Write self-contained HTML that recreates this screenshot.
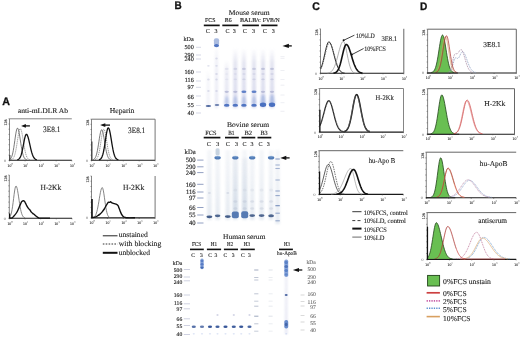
<!DOCTYPE html>
<html><head><meta charset="utf-8"><style>
html,body{margin:0;padding:0;background:#fff;width:520px;height:340px;overflow:hidden;}
svg{display:block;filter:blur(0.3px);}
text{text-rendering:geometricPrecision;}

</style></head><body>
<svg width="520" height="340" viewBox="0 0 520 340">
<defs>
<linearGradient id="fade" x1="0" y1="0" x2="0" y2="1"><stop offset="0" stop-color="#c4c6e0" stop-opacity="0"/><stop offset="0.25" stop-color="#c4c6e0" stop-opacity="0.8"/><stop offset="1" stop-color="#b8bce0" stop-opacity="1"/></linearGradient>
<linearGradient id="fade2" x1="0" y1="0" x2="0" y2="1"><stop offset="0" stop-color="#d2dae6" stop-opacity="0.6"/><stop offset="1" stop-color="#bccadc" stop-opacity="1"/></linearGradient>
<filter id="b1" x="-50%" y="-50%" width="200%" height="200%"><feGaussianBlur stdDeviation="0.55"/></filter>
<filter id="b2" x="-50%" y="-10%" width="200%" height="120%"><feGaussianBlur stdDeviation="0.9"/></filter>
</defs>
<rect x="0" y="0" width="520" height="340" fill="#fff"/>
<text x="2.2" y="105.4" font-family="Liberation Sans" font-weight="bold" font-size="11.00" fill="#111" stroke="#111" stroke-width="0.3" textLength="7.7" lengthAdjust="spacingAndGlyphs">A</text>
<text x="174.4" y="8.8" font-family="Liberation Sans" font-weight="bold" font-size="11.00" fill="#111" stroke="#111" stroke-width="0.3" textLength="7.2" lengthAdjust="spacingAndGlyphs">B</text>
<text x="312.3" y="9.6" font-family="Liberation Sans" font-weight="bold" font-size="11.00" fill="#111" stroke="#111" stroke-width="0.3" textLength="7.6" lengthAdjust="spacingAndGlyphs">C</text>
<text x="419.9" y="9.6" font-family="Liberation Sans" font-weight="bold" font-size="11.00" fill="#111" stroke="#111" stroke-width="0.3" textLength="7.3" lengthAdjust="spacingAndGlyphs">D</text>
<text x="17.8" y="113.0" font-family="Liberation Serif" font-size="7.2" font-weight="normal" fill="#222" stroke="#222" stroke-width="0.12" textLength="50.3" lengthAdjust="spacingAndGlyphs" opacity="1">anti-mLDLR Ab</text>
<text x="109.8" y="113.0" font-family="Liberation Serif" font-size="7.5" font-weight="normal" fill="#222" stroke="#222" stroke-width="0.12" textLength="24.6" lengthAdjust="spacingAndGlyphs" opacity="1">Heparin</text>
<line x1="9.5" y1="118.8" x2="9.5" y2="160.3" stroke="#777" stroke-width="0.9" opacity="1"/>
<line x1="8.5" y1="118.8" x2="9.5" y2="118.8" stroke="#555" stroke-width="0.6" opacity="1"/>
<line x1="8.5" y1="124.0" x2="9.5" y2="124.0" stroke="#555" stroke-width="0.6" opacity="1"/>
<line x1="8.5" y1="129.2" x2="9.5" y2="129.2" stroke="#555" stroke-width="0.6" opacity="1"/>
<line x1="8.5" y1="134.4" x2="9.5" y2="134.4" stroke="#555" stroke-width="0.6" opacity="1"/>
<line x1="8.5" y1="139.6" x2="9.5" y2="139.6" stroke="#555" stroke-width="0.6" opacity="1"/>
<line x1="8.5" y1="144.7" x2="9.5" y2="144.7" stroke="#555" stroke-width="0.6" opacity="1"/>
<line x1="8.5" y1="149.9" x2="9.5" y2="149.9" stroke="#555" stroke-width="0.6" opacity="1"/>
<line x1="8.5" y1="155.1" x2="9.5" y2="155.1" stroke="#555" stroke-width="0.6" opacity="1"/>
<line x1="8.5" y1="160.3" x2="9.5" y2="160.3" stroke="#555" stroke-width="0.6" opacity="1"/>
<line x1="9.2" y1="160.3" x2="71.8" y2="160.3" stroke="#1a1a1a" stroke-width="1.1" opacity="1"/>
<line x1="9.5" y1="118.8" x2="71.8" y2="118.8" stroke="#777" stroke-width="0.9" opacity="1"/>
<line x1="9.5" y1="160.3" x2="9.5" y2="161.3" stroke="#444" stroke-width="0.6" opacity="1"/>
<text x="7.6" y="166.5" font-family="Liberation Serif" font-size="3.9" fill="#333" stroke="#333" stroke-width="0.1">10</text>
<text x="11.4" y="164.5" font-family="Liberation Serif" font-size="2.9" fill="#333">0</text>
<line x1="25.1" y1="160.3" x2="25.1" y2="161.3" stroke="#444" stroke-width="0.6" opacity="1"/>
<text x="23.2" y="166.5" font-family="Liberation Serif" font-size="3.9" fill="#333" stroke="#333" stroke-width="0.1">10</text>
<text x="27.0" y="164.5" font-family="Liberation Serif" font-size="2.9" fill="#333">1</text>
<line x1="40.6" y1="160.3" x2="40.6" y2="161.3" stroke="#444" stroke-width="0.6" opacity="1"/>
<text x="38.8" y="166.5" font-family="Liberation Serif" font-size="3.9" fill="#333" stroke="#333" stroke-width="0.1">10</text>
<text x="42.5" y="164.5" font-family="Liberation Serif" font-size="2.9" fill="#333">2</text>
<line x1="56.2" y1="160.3" x2="56.2" y2="161.3" stroke="#444" stroke-width="0.6" opacity="1"/>
<text x="54.3" y="166.5" font-family="Liberation Serif" font-size="3.9" fill="#333" stroke="#333" stroke-width="0.1">10</text>
<text x="58.1" y="164.5" font-family="Liberation Serif" font-size="2.9" fill="#333">3</text>
<line x1="71.8" y1="160.3" x2="71.8" y2="161.3" stroke="#444" stroke-width="0.6" opacity="1"/>
<text x="69.9" y="166.5" font-family="Liberation Serif" font-size="3.9" fill="#333" stroke="#333" stroke-width="0.1">10</text>
<text x="73.7" y="164.5" font-family="Liberation Serif" font-size="2.9" fill="#333">4</text>
<text transform="translate(7.0,125.4) rotate(-90)" font-family="Liberation Serif" font-size="4.0" fill="#333" stroke="#333" stroke-width="0.12">128</text>
<text x="3.9" y="161.7" font-family="Liberation Serif" font-size="3.9" fill="#444">0</text>
<path d="M9.80,159.36 L10.30,158.99 L10.80,158.44 L11.30,157.62 L11.80,156.48 L12.30,154.92 L12.80,152.91 L13.30,150.42 L13.80,147.47 L14.30,144.15 L14.80,140.61 L15.30,137.08 L15.80,133.82 L16.30,131.09 L16.80,129.15 L17.30,128.19 L17.80,128.27 L18.30,129.29 L18.80,131.14 L19.30,133.67 L19.80,136.68 L20.30,139.95 L20.80,143.26 L21.30,146.42 L21.80,149.31 L22.30,151.82 L22.80,153.91 L23.30,155.60 L23.80,156.90 L24.30,157.87 L24.80,158.56 L25.30,159.05 L25.80,159.37 L26.30,159.58 L26.80,159.71" fill="none" stroke="#555" stroke-width="0.8" stroke-linejoin="round" opacity="1"/>
<path d="M10.80,159.75 L11.30,159.65 L11.80,159.47 L12.30,159.20 L12.80,158.80 L13.30,158.20 L13.80,157.36 L14.30,156.22 L14.80,154.72 L15.30,152.82 L15.80,150.51 L16.30,147.81 L16.80,144.79 L17.30,141.57 L17.80,138.31 L18.30,135.22 L18.80,132.52 L19.30,130.41 L19.80,129.06 L20.30,128.60 L20.80,129.03 L21.30,130.29 L21.80,132.28 L22.30,134.84 L22.80,137.78 L23.30,140.92 L23.80,144.05 L24.30,147.03 L24.80,149.74 L25.30,152.10 L25.80,154.07 L26.30,155.66 L26.80,156.91 L27.30,157.84 L27.80,158.52 L28.30,159.01 L28.80,159.33 L29.30,159.55 L29.80,159.69" fill="none" stroke="#777" stroke-width="0.8" stroke-dasharray="1.2,0.8" stroke-linejoin="round" opacity="1"/>
<path d="M17.30,159.71 L17.80,159.58 L18.30,159.38 L18.80,159.07 L19.30,158.62 L19.80,157.98 L20.30,157.10 L20.80,155.93 L21.30,154.45 L21.80,152.62 L22.30,150.48 L22.80,148.05 L23.30,145.44 L23.80,142.77 L24.30,140.20 L24.80,137.91 L25.30,136.08 L25.80,134.84 L26.30,134.32 L26.80,134.48 L27.30,135.18 L27.80,136.38 L28.30,138.00 L28.80,139.95 L29.30,142.11 L29.80,144.37 L30.30,146.64 L30.80,148.82 L31.30,150.84 L31.80,152.65 L32.30,154.22 L32.80,155.55 L33.30,156.63 L33.80,157.50 L34.30,158.18 L34.80,158.69 L35.30,159.07 L35.80,159.34 L36.30,159.53 L36.80,159.66" fill="none" stroke="#111" stroke-width="1.3" stroke-linejoin="round" opacity="1"/>
<line x1="9.9" y1="155.0" x2="9.9" y2="160.3" stroke="#333" stroke-width="1.0" opacity="1"/>
<line x1="24.0" y1="125.9" x2="29.9" y2="125.9" stroke="#111" stroke-width="1.3" opacity="1"/>
<path d="M21.1,125.9 L25.9,124.1 L25.9,127.7 Z" fill="#111"/>
<text x="43.1" y="131.9" font-family="Liberation Serif" font-size="8.2" font-weight="normal" fill="#222" stroke="#222" stroke-width="0.12" textLength="17.3" lengthAdjust="spacingAndGlyphs" opacity="1">3E8.1</text>
<line x1="9.3" y1="175.0" x2="9.3" y2="218.3" stroke="#777" stroke-width="0.9" opacity="1"/>
<line x1="8.3" y1="175.0" x2="9.3" y2="175.0" stroke="#555" stroke-width="0.6" opacity="1"/>
<line x1="8.3" y1="180.4" x2="9.3" y2="180.4" stroke="#555" stroke-width="0.6" opacity="1"/>
<line x1="8.3" y1="185.8" x2="9.3" y2="185.8" stroke="#555" stroke-width="0.6" opacity="1"/>
<line x1="8.3" y1="191.2" x2="9.3" y2="191.2" stroke="#555" stroke-width="0.6" opacity="1"/>
<line x1="8.3" y1="196.7" x2="9.3" y2="196.7" stroke="#555" stroke-width="0.6" opacity="1"/>
<line x1="8.3" y1="202.1" x2="9.3" y2="202.1" stroke="#555" stroke-width="0.6" opacity="1"/>
<line x1="8.3" y1="207.5" x2="9.3" y2="207.5" stroke="#555" stroke-width="0.6" opacity="1"/>
<line x1="8.3" y1="212.9" x2="9.3" y2="212.9" stroke="#555" stroke-width="0.6" opacity="1"/>
<line x1="8.3" y1="218.3" x2="9.3" y2="218.3" stroke="#555" stroke-width="0.6" opacity="1"/>
<line x1="9.0" y1="218.3" x2="72.0" y2="218.3" stroke="#1a1a1a" stroke-width="1.1" opacity="1"/>
<line x1="9.3" y1="218.3" x2="9.3" y2="219.3" stroke="#444" stroke-width="0.6" opacity="1"/>
<text x="7.4" y="224.5" font-family="Liberation Serif" font-size="3.9" fill="#333" stroke="#333" stroke-width="0.1">10</text>
<text x="11.2" y="222.5" font-family="Liberation Serif" font-size="2.9" fill="#333">0</text>
<line x1="25.0" y1="218.3" x2="25.0" y2="219.3" stroke="#444" stroke-width="0.6" opacity="1"/>
<text x="23.1" y="224.5" font-family="Liberation Serif" font-size="3.9" fill="#333" stroke="#333" stroke-width="0.1">10</text>
<text x="26.9" y="222.5" font-family="Liberation Serif" font-size="2.9" fill="#333">1</text>
<line x1="40.7" y1="218.3" x2="40.7" y2="219.3" stroke="#444" stroke-width="0.6" opacity="1"/>
<text x="38.8" y="224.5" font-family="Liberation Serif" font-size="3.9" fill="#333" stroke="#333" stroke-width="0.1">10</text>
<text x="42.6" y="222.5" font-family="Liberation Serif" font-size="2.9" fill="#333">2</text>
<line x1="56.3" y1="218.3" x2="56.3" y2="219.3" stroke="#444" stroke-width="0.6" opacity="1"/>
<text x="54.4" y="224.5" font-family="Liberation Serif" font-size="3.9" fill="#333" stroke="#333" stroke-width="0.1">10</text>
<text x="58.2" y="222.5" font-family="Liberation Serif" font-size="2.9" fill="#333">3</text>
<line x1="72.0" y1="218.3" x2="72.0" y2="219.3" stroke="#444" stroke-width="0.6" opacity="1"/>
<text x="70.1" y="224.5" font-family="Liberation Serif" font-size="3.9" fill="#333" stroke="#333" stroke-width="0.1">10</text>
<text x="73.9" y="222.5" font-family="Liberation Serif" font-size="2.9" fill="#333">4</text>
<text transform="translate(6.8,181.6) rotate(-90)" font-family="Liberation Serif" font-size="4.0" fill="#333" stroke="#333" stroke-width="0.12">128</text>
<text x="3.7" y="219.7" font-family="Liberation Serif" font-size="3.9" fill="#444">0</text>
<path d="M9.60,217.09 L10.10,216.44 L10.60,215.45 L11.10,214.02 L11.60,212.04 L12.10,209.45 L12.60,206.27 L13.10,202.58 L13.60,198.59 L14.10,194.61 L14.60,191.01 L15.10,188.17 L15.60,186.44 L16.10,186.02 L16.60,186.70 L17.10,188.30 L17.60,190.67 L18.10,193.61 L18.60,196.89 L19.10,200.29 L19.60,203.59 L20.10,206.63 L20.60,209.30 L21.10,211.55 L21.60,213.36 L22.10,214.76 L22.60,215.81 L23.10,216.56 L23.60,217.09 L24.10,217.44 L24.60,217.66 L25.10,217.80" fill="none" stroke="#666" stroke-width="0.8" stroke-linejoin="round" opacity="1"/>
<path d="M9.60,218.00 C10.02,217.98 11.30,218.32 12.10,217.90 C12.90,217.48 13.63,216.40 14.40,215.50 C15.17,214.60 16.00,213.65 16.70,212.50 C17.40,211.35 18.02,209.88 18.60,208.60 C19.18,207.32 19.68,205.95 20.20,204.80 C20.72,203.65 21.20,202.37 21.70,201.70 C22.20,201.03 22.75,200.87 23.20,200.80 C23.65,200.73 24.02,200.90 24.40,201.30 C24.78,201.70 25.05,202.37 25.50,203.20 C25.95,204.03 26.58,205.40 27.10,206.30 C27.62,207.20 28.15,208.02 28.60,208.60 C29.05,209.18 29.35,209.22 29.80,209.80 C30.25,210.38 30.67,211.40 31.30,212.10 C31.93,212.80 32.83,213.35 33.60,214.00 C34.37,214.65 35.13,215.40 35.90,216.00 C36.67,216.60 37.43,217.25 38.20,217.60 C38.97,217.95 38.53,218.02 40.50,218.10 C42.47,218.18 48.42,218.10 50.00,218.10" fill="none" stroke="#111" stroke-width="1.4" stroke-linejoin="round" opacity="1"/>
<line x1="9.6" y1="213.5" x2="9.6" y2="218.0" stroke="#111" stroke-width="1.2" opacity="1"/>
<text x="40.5" y="190.3" font-family="Liberation Serif" font-size="7.8" font-weight="normal" fill="#222" stroke="#222" stroke-width="0.12" textLength="20.7" lengthAdjust="spacingAndGlyphs" opacity="1">H-2Kk</text>
<line x1="91.5" y1="119.2" x2="91.5" y2="160.3" stroke="#777" stroke-width="0.9" opacity="1"/>
<line x1="90.5" y1="119.2" x2="91.5" y2="119.2" stroke="#555" stroke-width="0.6" opacity="1"/>
<line x1="90.5" y1="124.3" x2="91.5" y2="124.3" stroke="#555" stroke-width="0.6" opacity="1"/>
<line x1="90.5" y1="129.5" x2="91.5" y2="129.5" stroke="#555" stroke-width="0.6" opacity="1"/>
<line x1="90.5" y1="134.6" x2="91.5" y2="134.6" stroke="#555" stroke-width="0.6" opacity="1"/>
<line x1="90.5" y1="139.8" x2="91.5" y2="139.8" stroke="#555" stroke-width="0.6" opacity="1"/>
<line x1="90.5" y1="144.9" x2="91.5" y2="144.9" stroke="#555" stroke-width="0.6" opacity="1"/>
<line x1="90.5" y1="150.0" x2="91.5" y2="150.0" stroke="#555" stroke-width="0.6" opacity="1"/>
<line x1="90.5" y1="155.2" x2="91.5" y2="155.2" stroke="#555" stroke-width="0.6" opacity="1"/>
<line x1="90.5" y1="160.3" x2="91.5" y2="160.3" stroke="#555" stroke-width="0.6" opacity="1"/>
<line x1="91.2" y1="160.3" x2="155.1" y2="160.3" stroke="#1a1a1a" stroke-width="1.1" opacity="1"/>
<line x1="91.5" y1="119.2" x2="155.1" y2="119.2" stroke="#666" stroke-width="0.9" opacity="1"/>
<line x1="155.1" y1="119.2" x2="155.1" y2="160.3" stroke="#666" stroke-width="0.9" opacity="1"/>
<line x1="91.5" y1="160.3" x2="91.5" y2="161.3" stroke="#444" stroke-width="0.6" opacity="1"/>
<text x="89.6" y="166.5" font-family="Liberation Serif" font-size="3.9" fill="#333" stroke="#333" stroke-width="0.1">10</text>
<text x="93.4" y="164.5" font-family="Liberation Serif" font-size="2.9" fill="#333">0</text>
<line x1="107.4" y1="160.3" x2="107.4" y2="161.3" stroke="#444" stroke-width="0.6" opacity="1"/>
<text x="105.5" y="166.5" font-family="Liberation Serif" font-size="3.9" fill="#333" stroke="#333" stroke-width="0.1">10</text>
<text x="109.3" y="164.5" font-family="Liberation Serif" font-size="2.9" fill="#333">1</text>
<line x1="123.3" y1="160.3" x2="123.3" y2="161.3" stroke="#444" stroke-width="0.6" opacity="1"/>
<text x="121.4" y="166.5" font-family="Liberation Serif" font-size="3.9" fill="#333" stroke="#333" stroke-width="0.1">10</text>
<text x="125.2" y="164.5" font-family="Liberation Serif" font-size="2.9" fill="#333">2</text>
<line x1="139.2" y1="160.3" x2="139.2" y2="161.3" stroke="#444" stroke-width="0.6" opacity="1"/>
<text x="137.3" y="166.5" font-family="Liberation Serif" font-size="3.9" fill="#333" stroke="#333" stroke-width="0.1">10</text>
<text x="141.1" y="164.5" font-family="Liberation Serif" font-size="2.9" fill="#333">3</text>
<line x1="155.1" y1="160.3" x2="155.1" y2="161.3" stroke="#444" stroke-width="0.6" opacity="1"/>
<text x="153.2" y="166.5" font-family="Liberation Serif" font-size="3.9" fill="#333" stroke="#333" stroke-width="0.1">10</text>
<text x="157.0" y="164.5" font-family="Liberation Serif" font-size="2.9" fill="#333">4</text>
<text transform="translate(89.0,125.8) rotate(-90)" font-family="Liberation Serif" font-size="4.0" fill="#333" stroke="#333" stroke-width="0.12">128</text>
<text x="85.9" y="161.7" font-family="Liberation Serif" font-size="3.9" fill="#444">0</text>
<path d="M92.90,159.68 L93.40,159.53 L93.90,159.28 L94.40,158.89 L94.90,158.32 L95.40,157.50 L95.90,156.37 L96.40,154.87 L96.90,152.95 L97.40,150.61 L97.90,147.88 L98.40,144.82 L98.90,141.58 L99.40,138.35 L99.90,135.34 L100.40,132.79 L100.90,130.91 L101.40,129.87 L101.90,129.77 L102.40,130.57 L102.90,132.18 L103.40,134.47 L103.90,137.25 L104.40,140.32 L104.90,143.47 L105.40,146.52 L105.90,149.32 L106.40,151.78 L106.90,153.85 L107.40,155.52 L107.90,156.83 L108.40,157.81 L108.90,158.51 L109.40,159.01 L109.90,159.35 L110.40,159.56 L110.90,159.70" fill="none" stroke="#555" stroke-width="0.8" stroke-linejoin="round" opacity="1"/>
<path d="M94.90,159.70 L95.40,159.56 L95.90,159.32 L96.40,158.96 L96.90,158.42 L97.40,157.64 L97.90,156.55 L98.40,155.10 L98.90,153.24 L99.40,150.94 L99.90,148.22 L100.40,145.16 L100.90,141.89 L101.40,138.57 L101.90,135.43 L102.40,132.72 L102.90,130.65 L103.40,129.41 L103.90,129.12 L104.40,129.75 L104.90,131.24 L105.40,133.45 L105.90,136.20 L106.40,139.29 L106.90,142.51 L107.40,145.65 L107.90,148.56 L108.40,151.15 L108.90,153.34 L109.40,155.13 L109.90,156.53 L110.40,157.59 L110.90,158.36 L111.40,158.91 L111.90,159.28 L112.40,159.52 L112.90,159.68" fill="none" stroke="#777" stroke-width="0.8" stroke-dasharray="1.2,0.8" stroke-linejoin="round" opacity="1"/>
<path d="M98.90,159.73 L99.40,159.61 L99.90,159.42 L100.40,159.11 L100.90,158.66 L101.40,158.01 L101.90,157.09 L102.40,155.85 L102.90,154.23 L103.40,152.20 L103.90,149.75 L104.40,146.90 L104.90,143.76 L105.40,140.43 L105.90,137.11 L106.40,134.00 L106.90,131.33 L107.40,129.31 L107.90,128.10 L108.40,127.82 L108.90,128.40 L109.40,129.76 L109.90,131.80 L110.40,134.38 L110.90,137.32 L111.40,140.43 L111.90,143.54 L112.40,146.51 L112.90,149.22 L113.40,151.61 L113.90,153.62 L114.40,155.27 L114.90,156.57 L115.40,157.57 L115.90,158.31 L116.40,158.84 L116.90,159.22 L117.40,159.47 L117.90,159.63 L118.40,159.74" fill="none" stroke="#111" stroke-width="1.3" stroke-linejoin="round" opacity="1"/>
<line x1="91.9" y1="141.6" x2="91.9" y2="160.3" stroke="#333" stroke-width="1.1" opacity="1"/>
<line x1="103.2" y1="125.1" x2="110.0" y2="125.1" stroke="#111" stroke-width="1.3" opacity="1"/>
<path d="M100.1,125.1 L105.3,123.3 L105.3,126.9 Z" fill="#111"/>
<text x="128.1" y="132.5" font-family="Liberation Serif" font-size="8.2" font-weight="normal" fill="#222" stroke="#222" stroke-width="0.12" textLength="17.1" lengthAdjust="spacingAndGlyphs" opacity="1">3E8.1</text>
<line x1="91.5" y1="176.0" x2="91.5" y2="217.9" stroke="#777" stroke-width="0.9" opacity="1"/>
<line x1="90.5" y1="176.0" x2="91.5" y2="176.0" stroke="#555" stroke-width="0.6" opacity="1"/>
<line x1="90.5" y1="181.2" x2="91.5" y2="181.2" stroke="#555" stroke-width="0.6" opacity="1"/>
<line x1="90.5" y1="186.5" x2="91.5" y2="186.5" stroke="#555" stroke-width="0.6" opacity="1"/>
<line x1="90.5" y1="191.7" x2="91.5" y2="191.7" stroke="#555" stroke-width="0.6" opacity="1"/>
<line x1="90.5" y1="196.9" x2="91.5" y2="196.9" stroke="#555" stroke-width="0.6" opacity="1"/>
<line x1="90.5" y1="202.2" x2="91.5" y2="202.2" stroke="#555" stroke-width="0.6" opacity="1"/>
<line x1="90.5" y1="207.4" x2="91.5" y2="207.4" stroke="#555" stroke-width="0.6" opacity="1"/>
<line x1="90.5" y1="212.7" x2="91.5" y2="212.7" stroke="#555" stroke-width="0.6" opacity="1"/>
<line x1="90.5" y1="217.9" x2="91.5" y2="217.9" stroke="#555" stroke-width="0.6" opacity="1"/>
<line x1="91.2" y1="217.9" x2="155.1" y2="217.9" stroke="#1a1a1a" stroke-width="1.1" opacity="1"/>
<line x1="155.1" y1="176.0" x2="155.1" y2="217.9" stroke="#666" stroke-width="0.9" opacity="1"/>
<line x1="91.5" y1="217.9" x2="91.5" y2="218.9" stroke="#444" stroke-width="0.6" opacity="1"/>
<text x="89.6" y="224.1" font-family="Liberation Serif" font-size="3.9" fill="#333" stroke="#333" stroke-width="0.1">10</text>
<text x="93.4" y="222.1" font-family="Liberation Serif" font-size="2.9" fill="#333">0</text>
<line x1="107.4" y1="217.9" x2="107.4" y2="218.9" stroke="#444" stroke-width="0.6" opacity="1"/>
<text x="105.5" y="224.1" font-family="Liberation Serif" font-size="3.9" fill="#333" stroke="#333" stroke-width="0.1">10</text>
<text x="109.3" y="222.1" font-family="Liberation Serif" font-size="2.9" fill="#333">1</text>
<line x1="123.3" y1="217.9" x2="123.3" y2="218.9" stroke="#444" stroke-width="0.6" opacity="1"/>
<text x="121.4" y="224.1" font-family="Liberation Serif" font-size="3.9" fill="#333" stroke="#333" stroke-width="0.1">10</text>
<text x="125.2" y="222.1" font-family="Liberation Serif" font-size="2.9" fill="#333">2</text>
<line x1="139.2" y1="217.9" x2="139.2" y2="218.9" stroke="#444" stroke-width="0.6" opacity="1"/>
<text x="137.3" y="224.1" font-family="Liberation Serif" font-size="3.9" fill="#333" stroke="#333" stroke-width="0.1">10</text>
<text x="141.1" y="222.1" font-family="Liberation Serif" font-size="2.9" fill="#333">3</text>
<line x1="155.1" y1="217.9" x2="155.1" y2="218.9" stroke="#444" stroke-width="0.6" opacity="1"/>
<text x="153.2" y="224.1" font-family="Liberation Serif" font-size="3.9" fill="#333" stroke="#333" stroke-width="0.1">10</text>
<text x="157.0" y="222.1" font-family="Liberation Serif" font-size="2.9" fill="#333">4</text>
<text transform="translate(89.0,182.6) rotate(-90)" font-family="Liberation Serif" font-size="4.0" fill="#333" stroke="#333" stroke-width="0.12">128</text>
<text x="85.9" y="219.3" font-family="Liberation Serif" font-size="3.9" fill="#444">0</text>
<path d="M92.90,217.55 L93.40,217.39 L93.90,217.14 L94.40,216.77 L94.90,216.24 L95.40,215.49 L95.90,214.47 L96.40,213.14 L96.90,211.46 L97.40,209.40 L97.90,206.99 L98.40,204.26 L98.90,201.31 L99.40,198.26 L99.90,195.29 L100.40,192.57 L100.90,190.31 L101.40,188.65 L101.90,187.75 L102.40,187.70 L102.90,188.76 L103.40,190.89 L103.90,193.83 L104.40,197.30 L104.90,200.95 L105.40,204.49 L105.90,207.70 L106.40,210.44 L106.90,212.64 L107.40,214.33 L107.90,215.56 L108.40,216.41 L108.90,216.97 L109.40,217.32 L109.90,217.54 L110.40,217.66" fill="none" stroke="#666" stroke-width="0.8" stroke-linejoin="round" opacity="1"/>
<path d="M91.90,217.60 C92.43,217.52 94.18,217.38 95.10,217.10 C96.02,216.82 96.63,216.35 97.40,215.90 C98.17,215.45 98.93,215.03 99.70,214.40 C100.47,213.77 101.23,213.00 102.00,212.10 C102.77,211.20 103.60,210.10 104.30,209.00 C105.00,207.90 105.62,206.53 106.20,205.50 C106.78,204.47 107.40,203.37 107.80,202.80 C108.20,202.23 108.30,202.17 108.60,202.10 C108.90,202.03 109.28,202.47 109.60,202.40 C109.92,202.33 110.10,201.63 110.50,201.70 C110.90,201.77 111.37,202.48 112.00,202.80 C112.63,203.12 113.53,203.33 114.30,203.60 C115.07,203.87 115.95,204.02 116.60,204.40 C117.25,204.78 117.82,205.33 118.20,205.90 C118.58,206.47 118.58,206.97 118.90,207.80 C119.22,208.63 119.65,209.80 120.10,210.90 C120.55,212.00 121.08,213.47 121.60,214.40 C122.12,215.33 122.62,216.00 123.20,216.50 C123.78,217.00 124.40,217.18 125.10,217.40 C125.80,217.62 125.75,217.73 127.40,217.80 C129.05,217.87 133.73,217.80 135.00,217.80" fill="none" stroke="#111" stroke-width="1.4" stroke-linejoin="round" opacity="1"/>
<line x1="92.0" y1="199.0" x2="92.0" y2="217.9" stroke="#111" stroke-width="1.6" opacity="1"/>
<text x="123.1" y="189.5" font-family="Liberation Serif" font-size="7.8" font-weight="normal" fill="#222" stroke="#222" stroke-width="0.12" textLength="21.1" lengthAdjust="spacingAndGlyphs" opacity="1">H-2Kk</text>
<line x1="102.8" y1="235.8" x2="117.5" y2="235.8" stroke="#222" stroke-width="1.0" opacity="1"/>
<text x="118.8" y="236.8" font-family="Liberation Serif" font-size="7.5" font-weight="normal" fill="#222" stroke="#222" stroke-width="0.12" textLength="29.0" lengthAdjust="spacingAndGlyphs" opacity="1">unstained</text>
<line x1="102.8" y1="244.0" x2="117.5" y2="244.0" stroke="#333" stroke-width="1.0" stroke-dasharray="1.6,1.3" opacity="1"/>
<text x="118.8" y="245.5" font-family="Liberation Serif" font-size="7.5" font-weight="normal" fill="#222" stroke="#222" stroke-width="0.12" textLength="42.5" lengthAdjust="spacingAndGlyphs" opacity="1">with blocking</text>
<line x1="102.8" y1="252.8" x2="117.5" y2="252.8" stroke="#111" stroke-width="2.0" opacity="1"/>
<text x="118.8" y="254.5" font-family="Liberation Serif" font-size="7.5" font-weight="normal" fill="#222" stroke="#222" stroke-width="0.12" textLength="31.2" lengthAdjust="spacingAndGlyphs" opacity="1">unblocked</text>
<text x="228.8" y="14.8" font-family="Liberation Serif" font-size="7.2" font-weight="normal" fill="#222" stroke="#222" stroke-width="0.12" textLength="40.9" lengthAdjust="spacingAndGlyphs" opacity="1">Mouse serum</text>
<text x="205.0" y="21.9" font-family="Liberation Serif" font-size="5.9" font-weight="normal" fill="#222" stroke="#222" stroke-width="0.12" textLength="10.4" lengthAdjust="spacingAndGlyphs" opacity="1">FCS</text>
<text x="224.8" y="21.9" font-family="Liberation Serif" font-size="5.9" font-weight="normal" fill="#222" stroke="#222" stroke-width="0.12" textLength="6.9" lengthAdjust="spacingAndGlyphs" opacity="1">B6</text>
<text x="240.0" y="21.9" font-family="Liberation Serif" font-size="5.9" font-weight="normal" fill="#222" stroke="#222" stroke-width="0.12" textLength="20.8" lengthAdjust="spacingAndGlyphs" opacity="1">BALB/c</text>
<text x="262.7" y="21.9" font-family="Liberation Serif" font-size="5.9" font-weight="normal" fill="#222" stroke="#222" stroke-width="0.12" textLength="17.1" lengthAdjust="spacingAndGlyphs" opacity="1">FVB/N</text>
<line x1="203.8" y1="25.4" x2="219.7" y2="25.4" stroke="#111" stroke-width="1.7" opacity="1"/>
<line x1="222.3" y1="25.4" x2="238.5" y2="25.4" stroke="#111" stroke-width="1.7" opacity="1"/>
<line x1="242.3" y1="25.4" x2="258.9" y2="25.4" stroke="#111" stroke-width="1.7" opacity="1"/>
<line x1="261.2" y1="25.4" x2="277.5" y2="25.4" stroke="#111" stroke-width="1.7" opacity="1"/>
<text x="207.7" y="32.9" font-family="Liberation Serif" font-size="6.0" fill="#222" stroke="#222" stroke-width="0.12" text-anchor="middle">C</text>
<text x="215.9" y="32.9" font-family="Liberation Serif" font-size="6.0" fill="#222" stroke="#222" stroke-width="0.12" text-anchor="middle">3</text>
<text x="227.4" y="32.9" font-family="Liberation Serif" font-size="6.0" fill="#222" stroke="#222" stroke-width="0.12" text-anchor="middle">C</text>
<text x="234.2" y="32.9" font-family="Liberation Serif" font-size="6.0" fill="#222" stroke="#222" stroke-width="0.12" text-anchor="middle">3</text>
<text x="244.8" y="32.9" font-family="Liberation Serif" font-size="6.0" fill="#222" stroke="#222" stroke-width="0.12" text-anchor="middle">C</text>
<text x="253.5" y="32.9" font-family="Liberation Serif" font-size="6.0" fill="#222" stroke="#222" stroke-width="0.12" text-anchor="middle">3</text>
<text x="264.8" y="32.9" font-family="Liberation Serif" font-size="6.0" fill="#222" stroke="#222" stroke-width="0.12" text-anchor="middle">C</text>
<text x="273.3" y="32.9" font-family="Liberation Serif" font-size="6.0" fill="#222" stroke="#222" stroke-width="0.12" text-anchor="middle">3</text>
<text x="193.8" y="40.8" font-family="Liberation Serif" font-size="6.2" fill="#2a2a2a" stroke="#2a2a2a" stroke-width="0.15" text-anchor="end" opacity="1">kDa</text>
<text x="193.8" y="49.0" font-family="Liberation Serif" font-size="6.2" fill="#2a2a2a" stroke="#2a2a2a" stroke-width="0.15" text-anchor="end" opacity="1">500</text>
<text x="193.8" y="56.8" font-family="Liberation Serif" font-size="6.2" fill="#2a2a2a" stroke="#2a2a2a" stroke-width="0.15" text-anchor="end" opacity="1">290</text>
<text x="193.8" y="61.2" font-family="Liberation Serif" font-size="6.2" fill="#2a2a2a" stroke="#2a2a2a" stroke-width="0.15" text-anchor="end" opacity="1">240</text>
<text x="193.8" y="74.2" font-family="Liberation Serif" font-size="6.2" fill="#2a2a2a" stroke="#2a2a2a" stroke-width="0.15" text-anchor="end" opacity="1">160</text>
<text x="193.8" y="82.4" font-family="Liberation Serif" font-size="6.2" fill="#2a2a2a" stroke="#2a2a2a" stroke-width="0.15" text-anchor="end" opacity="1">116</text>
<text x="193.8" y="88.6" font-family="Liberation Serif" font-size="6.2" fill="#2a2a2a" stroke="#2a2a2a" stroke-width="0.15" text-anchor="end" opacity="1">97</text>
<text x="193.8" y="98.6" font-family="Liberation Serif" font-size="6.2" fill="#2a2a2a" stroke="#2a2a2a" stroke-width="0.15" text-anchor="end" opacity="1">66</text>
<text x="193.8" y="107.4" font-family="Liberation Serif" font-size="6.2" fill="#2a2a2a" stroke="#2a2a2a" stroke-width="0.15" text-anchor="end" opacity="1">55</text>
<text x="193.8" y="115.4" font-family="Liberation Serif" font-size="6.2" fill="#2a2a2a" stroke="#2a2a2a" stroke-width="0.15" text-anchor="end" opacity="1">40</text>
<line x1="196.0" y1="47.3" x2="201.0" y2="47.3" stroke="#9aa0c0" stroke-width="0.8" opacity="0.5"/>
<line x1="196.0" y1="55.0" x2="201.0" y2="55.0" stroke="#9aa0c0" stroke-width="0.8" opacity="0.5"/>
<line x1="196.0" y1="59.0" x2="201.0" y2="59.0" stroke="#9aa0c0" stroke-width="0.8" opacity="0.5"/>
<line x1="196.0" y1="72.0" x2="201.0" y2="72.0" stroke="#9aa0c0" stroke-width="0.8" opacity="0.5"/>
<line x1="196.0" y1="81.0" x2="201.0" y2="81.0" stroke="#9aa0c0" stroke-width="0.8" opacity="0.5"/>
<line x1="196.0" y1="87.3" x2="201.0" y2="87.3" stroke="#9aa0c0" stroke-width="0.8" opacity="0.5"/>
<line x1="196.0" y1="96.0" x2="201.0" y2="96.0" stroke="#9aa0c0" stroke-width="0.8" opacity="0.5"/>
<line x1="196.0" y1="105.4" x2="201.0" y2="105.4" stroke="#9aa0c0" stroke-width="0.8" opacity="0.5"/>
<line x1="196.0" y1="113.0" x2="201.0" y2="113.0" stroke="#9aa0c0" stroke-width="0.8" opacity="0.5"/>
<rect x="206.6" y="70.0" width="3.2" height="38.0" fill="url(#fade)" opacity="0.2" filter="url(#b2)"/>
<rect x="214.9" y="44.0" width="3.2" height="64.0" fill="url(#fade)" opacity="0.3" filter="url(#b2)"/>
<rect x="224.7" y="60.0" width="4.0" height="48.0" fill="url(#fade)" opacity="0.4" filter="url(#b2)"/>
<rect x="233.2" y="48.0" width="4.2" height="60.0" fill="url(#fade)" opacity="0.55" filter="url(#b2)"/>
<rect x="241.8" y="48.0" width="4.2" height="60.0" fill="url(#fade)" opacity="0.55" filter="url(#b2)"/>
<rect x="251.9" y="48.0" width="4.2" height="60.0" fill="url(#fade)" opacity="0.55" filter="url(#b2)"/>
<rect x="260.9" y="48.0" width="4.2" height="60.0" fill="url(#fade)" opacity="0.55" filter="url(#b2)"/>
<rect x="269.9" y="48.0" width="4.2" height="60.0" fill="url(#fade)" opacity="0.55" filter="url(#b2)"/>
<rect x="213.9" y="38.2" width="5.2" height="7" rx="2" fill="#8fa6d6" opacity="0.75" filter="url(#b1)"/>
<ellipse cx="216.5" cy="45.6" rx="2.60" ry="1.60" fill="#4a6fc0" opacity="0.95" filter="url(#b1)"/>
<ellipse cx="208.4" cy="106.0" rx="2.70" ry="1.10" fill="#34508f" opacity="0.85" filter="url(#b1)"/>
<ellipse cx="217.0" cy="105.0" rx="2.30" ry="1.00" fill="#34508f" opacity="0.7" filter="url(#b1)"/>
<ellipse cx="208.4" cy="65.8" rx="1.30" ry="0.90" fill="#a0a4c8" opacity="0.3" filter="url(#b1)"/>
<ellipse cx="208.4" cy="79.5" rx="1.30" ry="0.90" fill="#a0a4c8" opacity="0.3" filter="url(#b1)"/>
<ellipse cx="208.4" cy="91.0" rx="1.30" ry="0.90" fill="#a0a4c8" opacity="0.3" filter="url(#b1)"/>
<ellipse cx="216.5" cy="58.5" rx="1.30" ry="0.90" fill="#a0a4c8" opacity="0.3" filter="url(#b1)"/>
<ellipse cx="216.5" cy="65.8" rx="1.30" ry="0.90" fill="#a0a4c8" opacity="0.3" filter="url(#b1)"/>
<ellipse cx="216.5" cy="74.0" rx="1.30" ry="0.90" fill="#a0a4c8" opacity="0.3" filter="url(#b1)"/>
<ellipse cx="216.5" cy="79.5" rx="1.30" ry="0.90" fill="#a0a4c8" opacity="0.3" filter="url(#b1)"/>
<ellipse cx="216.5" cy="91.0" rx="1.30" ry="0.90" fill="#a0a4c8" opacity="0.3" filter="url(#b1)"/>
<ellipse cx="226.7" cy="68.9" rx="2.00" ry="1.10" fill="#a0a4c8" opacity="0.2" filter="url(#b1)"/>
<ellipse cx="226.7" cy="74.0" rx="1.80" ry="0.80" fill="#a0a4c8" opacity="0.12" filter="url(#b1)"/>
<ellipse cx="226.7" cy="79.4" rx="1.80" ry="0.80" fill="#a0a4c8" opacity="0.12" filter="url(#b1)"/>
<ellipse cx="235.3" cy="68.9" rx="2.00" ry="1.10" fill="#a0a4c8" opacity="0.3" filter="url(#b1)"/>
<ellipse cx="235.3" cy="74.0" rx="1.80" ry="0.80" fill="#a0a4c8" opacity="0.18" filter="url(#b1)"/>
<ellipse cx="235.3" cy="79.4" rx="1.80" ry="0.80" fill="#a0a4c8" opacity="0.18" filter="url(#b1)"/>
<ellipse cx="243.9" cy="68.9" rx="2.00" ry="1.10" fill="#a0a4c8" opacity="0.45" filter="url(#b1)"/>
<ellipse cx="243.9" cy="74.0" rx="1.80" ry="0.80" fill="#a0a4c8" opacity="0.27" filter="url(#b1)"/>
<ellipse cx="243.9" cy="79.4" rx="1.80" ry="0.80" fill="#a0a4c8" opacity="0.27" filter="url(#b1)"/>
<ellipse cx="254.0" cy="68.9" rx="2.00" ry="1.10" fill="#a0a4c8" opacity="0.45" filter="url(#b1)"/>
<ellipse cx="254.0" cy="74.0" rx="1.80" ry="0.80" fill="#a0a4c8" opacity="0.27" filter="url(#b1)"/>
<ellipse cx="254.0" cy="79.4" rx="1.80" ry="0.80" fill="#a0a4c8" opacity="0.27" filter="url(#b1)"/>
<ellipse cx="263.0" cy="68.9" rx="2.00" ry="1.10" fill="#a0a4c8" opacity="0.55" filter="url(#b1)"/>
<ellipse cx="263.0" cy="74.0" rx="1.80" ry="0.80" fill="#a0a4c8" opacity="0.33" filter="url(#b1)"/>
<ellipse cx="263.0" cy="79.4" rx="1.80" ry="0.80" fill="#a0a4c8" opacity="0.33" filter="url(#b1)"/>
<ellipse cx="272.0" cy="68.9" rx="2.00" ry="1.10" fill="#a0a4c8" opacity="0.55" filter="url(#b1)"/>
<ellipse cx="272.0" cy="74.0" rx="1.80" ry="0.80" fill="#a0a4c8" opacity="0.33" filter="url(#b1)"/>
<ellipse cx="272.0" cy="79.4" rx="1.80" ry="0.80" fill="#a0a4c8" opacity="0.33" filter="url(#b1)"/>
<ellipse cx="226.7" cy="91.8" rx="2.20" ry="1.10" fill="#a0a4c8" opacity="0.6" filter="url(#b1)"/>
<ellipse cx="235.3" cy="91.8" rx="2.20" ry="1.10" fill="#a0a4c8" opacity="0.6" filter="url(#b1)"/>
<ellipse cx="263.0" cy="91.8" rx="2.20" ry="1.10" fill="#a0a4c8" opacity="0.6" filter="url(#b1)"/>
<ellipse cx="272.0" cy="91.8" rx="2.20" ry="1.10" fill="#a0a4c8" opacity="0.6" filter="url(#b1)"/>
<ellipse cx="243.9" cy="91.8" rx="2.50" ry="1.30" fill="#4a6fc0" opacity="0.85" filter="url(#b1)"/>
<ellipse cx="254.0" cy="91.8" rx="2.50" ry="1.30" fill="#4a6fc0" opacity="0.85" filter="url(#b1)"/>
<path d="M225.5,96.5 L227.9,96.5 L229.3,104 L224.1,104 Z" fill="#8ea6dc" opacity="0.45" filter="url(#b2)"/>
<ellipse cx="226.7" cy="105.2" rx="2.80" ry="1.50" fill="#4a6fc0" opacity="0.95" filter="url(#b1)"/>
<path d="M234.1,96.5 L236.5,96.5 L237.9,104 L232.7,104 Z" fill="#8ea6dc" opacity="0.45" filter="url(#b2)"/>
<ellipse cx="235.3" cy="105.2" rx="2.80" ry="1.50" fill="#4a6fc0" opacity="0.95" filter="url(#b1)"/>
<path d="M242.7,96.5 L245.1,96.5 L246.5,104 L241.3,104 Z" fill="#8ea6dc" opacity="0.45" filter="url(#b2)"/>
<ellipse cx="243.9" cy="105.2" rx="2.80" ry="1.50" fill="#4a6fc0" opacity="0.95" filter="url(#b1)"/>
<path d="M252.8,96.5 L255.2,96.5 L256.6,104 L251.4,104 Z" fill="#8ea6dc" opacity="0.45" filter="url(#b2)"/>
<ellipse cx="254.0" cy="105.2" rx="2.80" ry="1.50" fill="#4a6fc0" opacity="0.95" filter="url(#b1)"/>
<path d="M261.6,95 L264.4,95 L266.0,104 L260.0,104 Z" fill="#8ea6dc" opacity="0.55" filter="url(#b2)"/>
<ellipse cx="263.0" cy="104.8" rx="3.20" ry="2.20" fill="#4a6fc0" opacity="1.0" filter="url(#b1)"/>
<path d="M270.6,95 L273.4,95 L275.0,104 L269.0,104 Z" fill="#8ea6dc" opacity="0.55" filter="url(#b2)"/>
<ellipse cx="272.0" cy="104.8" rx="3.20" ry="2.20" fill="#4a6fc0" opacity="1.0" filter="url(#b1)"/>
<line x1="280.5" y1="56.4" x2="284.5" y2="56.4" stroke="#c0c4d4" stroke-width="0.8" opacity="0.35"/>
<line x1="280.5" y1="58.3" x2="284.5" y2="58.3" stroke="#c0c4d4" stroke-width="0.8" opacity="0.35"/>
<line x1="280.5" y1="70.5" x2="284.5" y2="70.5" stroke="#c0c4d4" stroke-width="0.8" opacity="0.35"/>
<line x1="280.5" y1="79.6" x2="284.5" y2="79.6" stroke="#c0c4d4" stroke-width="0.8" opacity="0.35"/>
<line x1="280.5" y1="85.2" x2="284.5" y2="85.2" stroke="#c0c4d4" stroke-width="0.8" opacity="0.35"/>
<line x1="280.5" y1="95.0" x2="284.5" y2="95.0" stroke="#c0c4d4" stroke-width="0.8" opacity="0.35"/>
<line x1="280.5" y1="102.7" x2="284.5" y2="102.7" stroke="#c0c4d4" stroke-width="0.8" opacity="0.35"/>
<line x1="280.5" y1="111.3" x2="284.5" y2="111.3" stroke="#c0c4d4" stroke-width="0.8" opacity="0.35"/>
<line x1="286.3" y1="45.9" x2="291.8" y2="45.9" stroke="#111" stroke-width="1.3" opacity="1"/>
<path d="M282.5,45.9 L288.9,43.7 L288.9,48.1 Z" fill="#111"/>
<text x="227.0" y="126.7" font-family="Liberation Serif" font-size="7.2" font-weight="normal" fill="#222" stroke="#222" stroke-width="0.12" textLength="42.1" lengthAdjust="spacingAndGlyphs" opacity="1">Bovine serum</text>
<text x="205.3" y="134.6" font-family="Liberation Serif" font-size="6.4" font-weight="normal" fill="#222" stroke="#222" stroke-width="0.12" textLength="11.2" lengthAdjust="spacingAndGlyphs" opacity="1">FCS</text>
<text x="228.2" y="134.6" font-family="Liberation Serif" font-size="6.4" font-weight="normal" fill="#222" stroke="#222" stroke-width="0.12" textLength="6.3" lengthAdjust="spacingAndGlyphs" opacity="1">B1</text>
<text x="244.4" y="134.6" font-family="Liberation Serif" font-size="6.4" font-weight="normal" fill="#222" stroke="#222" stroke-width="0.12" textLength="7.7" lengthAdjust="spacingAndGlyphs" opacity="1">B2</text>
<text x="260.4" y="134.6" font-family="Liberation Serif" font-size="6.4" font-weight="normal" fill="#222" stroke="#222" stroke-width="0.12" textLength="7.3" lengthAdjust="spacingAndGlyphs" opacity="1">B3</text>
<line x1="203.7" y1="137.6" x2="220.4" y2="137.6" stroke="#111" stroke-width="1.7" opacity="1"/>
<line x1="225.0" y1="137.6" x2="238.8" y2="137.6" stroke="#111" stroke-width="1.7" opacity="1"/>
<line x1="241.5" y1="137.6" x2="255.3" y2="137.6" stroke="#111" stroke-width="1.7" opacity="1"/>
<line x1="257.5" y1="137.6" x2="271.3" y2="137.6" stroke="#111" stroke-width="1.7" opacity="1"/>
<text x="208.8" y="145.6" font-family="Liberation Serif" font-size="6.0" fill="#222" stroke="#222" stroke-width="0.12" text-anchor="middle">C</text>
<text x="217.7" y="145.6" font-family="Liberation Serif" font-size="6.0" fill="#222" stroke="#222" stroke-width="0.12" text-anchor="middle">3</text>
<text x="227.7" y="145.6" font-family="Liberation Serif" font-size="6.0" fill="#222" stroke="#222" stroke-width="0.12" text-anchor="middle">C</text>
<text x="236.4" y="145.6" font-family="Liberation Serif" font-size="6.0" fill="#222" stroke="#222" stroke-width="0.12" text-anchor="middle">3</text>
<text x="244.4" y="145.6" font-family="Liberation Serif" font-size="6.0" fill="#222" stroke="#222" stroke-width="0.12" text-anchor="middle">C</text>
<text x="252.1" y="145.6" font-family="Liberation Serif" font-size="6.0" fill="#222" stroke="#222" stroke-width="0.12" text-anchor="middle">3</text>
<text x="260.4" y="145.6" font-family="Liberation Serif" font-size="6.0" fill="#222" stroke="#222" stroke-width="0.12" text-anchor="middle">C</text>
<text x="268.2" y="145.6" font-family="Liberation Serif" font-size="6.0" fill="#222" stroke="#222" stroke-width="0.12" text-anchor="middle">3</text>
<text x="195.6" y="154.3" font-family="Liberation Serif" font-size="6.6" fill="#2a2a2a" stroke="#2a2a2a" stroke-width="0.15" text-anchor="end" opacity="1">kDa</text>
<text x="195.6" y="162.3" font-family="Liberation Serif" font-size="6.6" fill="#2a2a2a" stroke="#2a2a2a" stroke-width="0.15" text-anchor="end" opacity="1">500</text>
<text x="195.6" y="169.0" font-family="Liberation Serif" font-size="6.6" fill="#2a2a2a" stroke="#2a2a2a" stroke-width="0.15" text-anchor="end" opacity="1">290</text>
<text x="195.6" y="174.8" font-family="Liberation Serif" font-size="6.6" fill="#2a2a2a" stroke="#2a2a2a" stroke-width="0.15" text-anchor="end" opacity="1">240</text>
<text x="195.6" y="186.5" font-family="Liberation Serif" font-size="6.6" fill="#2a2a2a" stroke="#2a2a2a" stroke-width="0.15" text-anchor="end" opacity="1">160</text>
<text x="195.6" y="194.2" font-family="Liberation Serif" font-size="6.6" fill="#2a2a2a" stroke="#2a2a2a" stroke-width="0.15" text-anchor="end" opacity="1">116</text>
<text x="195.6" y="200.2" font-family="Liberation Serif" font-size="6.6" fill="#2a2a2a" stroke="#2a2a2a" stroke-width="0.15" text-anchor="end" opacity="1">97</text>
<text x="195.6" y="209.7" font-family="Liberation Serif" font-size="6.6" fill="#2a2a2a" stroke="#2a2a2a" stroke-width="0.15" text-anchor="end" opacity="1">66</text>
<text x="195.6" y="217.2" font-family="Liberation Serif" font-size="6.6" fill="#2a2a2a" stroke="#2a2a2a" stroke-width="0.15" text-anchor="end" opacity="1">55</text>
<text x="195.6" y="225.2" font-family="Liberation Serif" font-size="6.6" fill="#2a2a2a" stroke="#2a2a2a" stroke-width="0.15" text-anchor="end" opacity="1">40</text>
<line x1="197.2" y1="160.1" x2="203.5" y2="160.1" stroke="#8090b8" stroke-width="1.0" opacity="0.85"/>
<line x1="197.2" y1="166.8" x2="203.5" y2="166.8" stroke="#8090b8" stroke-width="1.0" opacity="0.85"/>
<line x1="197.2" y1="172.6" x2="203.5" y2="172.6" stroke="#8090b8" stroke-width="1.0" opacity="0.85"/>
<line x1="197.2" y1="184.3" x2="203.5" y2="184.3" stroke="#8090b8" stroke-width="1.0" opacity="0.85"/>
<line x1="197.2" y1="192.0" x2="203.5" y2="192.0" stroke="#8090b8" stroke-width="1.0" opacity="0.85"/>
<line x1="197.2" y1="198.0" x2="203.5" y2="198.0" stroke="#8090b8" stroke-width="1.0" opacity="0.85"/>
<line x1="197.2" y1="207.5" x2="203.5" y2="207.5" stroke="#8090b8" stroke-width="1.0" opacity="0.85"/>
<line x1="197.2" y1="215.0" x2="203.5" y2="215.0" stroke="#8090b8" stroke-width="1.0" opacity="0.85"/>
<line x1="197.2" y1="223.0" x2="203.5" y2="223.0" stroke="#8090b8" stroke-width="1.0" opacity="0.85"/>
<rect x="207.1" y="150.0" width="4.6" height="70.0" fill="url(#fade2)" opacity="0.38" filter="url(#b2)"/>
<rect x="215.3" y="150.0" width="4.6" height="70.0" fill="url(#fade2)" opacity="0.38" filter="url(#b2)"/>
<rect x="225.5" y="150.0" width="4.6" height="70.0" fill="url(#fade2)" opacity="0.38" filter="url(#b2)"/>
<rect x="233.0" y="150.0" width="4.6" height="70.0" fill="url(#fade2)" opacity="0.38" filter="url(#b2)"/>
<rect x="242.4" y="150.0" width="4.6" height="70.0" fill="url(#fade2)" opacity="0.38" filter="url(#b2)"/>
<rect x="249.9" y="150.0" width="4.6" height="70.0" fill="url(#fade2)" opacity="0.38" filter="url(#b2)"/>
<rect x="259.3" y="150.0" width="4.6" height="70.0" fill="url(#fade2)" opacity="0.38" filter="url(#b2)"/>
<rect x="268.8" y="150.0" width="4.6" height="70.0" fill="url(#fade2)" opacity="0.38" filter="url(#b2)"/>
<rect x="232.5" y="158.0" width="5.6" height="56.0" fill="url(#fade2)" opacity="0.45" filter="url(#b2)"/>
<rect x="241.9" y="158.0" width="5.6" height="56.0" fill="url(#fade2)" opacity="0.45" filter="url(#b2)"/>
<rect x="275.4" y="150.0" width="4.4" height="74.0" fill="url(#fade2)" opacity="0.38" filter="url(#b2)"/>
<rect x="215.6" y="148.3" width="4" height="7" rx="1.5" fill="#a8bcd0" opacity="0.6" filter="url(#b1)"/>
<ellipse cx="217.6" cy="157.8" rx="3.20" ry="1.80" fill="#4a76b4" opacity="0.95" filter="url(#b1)"/>
<ellipse cx="217.6" cy="156.6" rx="2.50" ry="0.80" fill="#8fb0d8" opacity="0.6" filter="url(#b1)"/>
<ellipse cx="235.3" cy="157.8" rx="3.20" ry="1.80" fill="#4a76b4" opacity="0.95" filter="url(#b1)"/>
<ellipse cx="235.3" cy="156.6" rx="2.50" ry="0.80" fill="#8fb0d8" opacity="0.6" filter="url(#b1)"/>
<ellipse cx="252.2" cy="157.8" rx="3.20" ry="1.80" fill="#4a76b4" opacity="0.95" filter="url(#b1)"/>
<ellipse cx="252.2" cy="156.6" rx="2.50" ry="0.80" fill="#8fb0d8" opacity="0.6" filter="url(#b1)"/>
<ellipse cx="271.1" cy="157.8" rx="3.20" ry="1.80" fill="#4a76b4" opacity="0.95" filter="url(#b1)"/>
<ellipse cx="271.1" cy="156.6" rx="2.50" ry="0.80" fill="#8fb0d8" opacity="0.6" filter="url(#b1)"/>
<ellipse cx="209.4" cy="216.8" rx="3.00" ry="1.40" fill="#34507f" opacity="0.9" filter="url(#b1)"/>
<ellipse cx="217.6" cy="215.8" rx="2.80" ry="1.40" fill="#34507f" opacity="0.85" filter="url(#b1)"/>
<ellipse cx="227.8" cy="216.6" rx="3.00" ry="1.40" fill="#34507f" opacity="0.9" filter="url(#b1)"/>
<rect x="231.8" y="211.6" width="7" height="6.6" rx="2" fill="#4f74b0" opacity="0.95" filter="url(#b1)"/>
<rect x="241.2" y="211.2" width="7" height="7" rx="2" fill="#4f74b0" opacity="0.95" filter="url(#b1)"/>
<ellipse cx="252.2" cy="215.6" rx="2.90" ry="1.45" fill="#34507f" opacity="0.85" filter="url(#b1)"/>
<ellipse cx="261.6" cy="215.6" rx="2.90" ry="1.35" fill="#34507f" opacity="0.85" filter="url(#b1)"/>
<ellipse cx="271.1" cy="215.8" rx="2.90" ry="1.55" fill="#34507f" opacity="0.85" filter="url(#b1)"/>
<ellipse cx="209.4" cy="193.0" rx="1.50" ry="1.00" fill="#b0b8cc" opacity="0.35" filter="url(#b1)"/>
<ellipse cx="227.8" cy="193.0" rx="1.50" ry="1.00" fill="#b0b8cc" opacity="0.35" filter="url(#b1)"/>
<ellipse cx="235.3" cy="201.5" rx="2.00" ry="1.20" fill="#b0b8cc" opacity="0.3" filter="url(#b1)"/>
<ellipse cx="235.3" cy="208.5" rx="2.00" ry="1.20" fill="#b0b8cc" opacity="0.3" filter="url(#b1)"/>
<ellipse cx="235.3" cy="190.0" rx="2.00" ry="1.50" fill="#b8c0d0" opacity="0.2" filter="url(#b1)"/>
<ellipse cx="244.7" cy="201.5" rx="2.00" ry="1.20" fill="#b0b8cc" opacity="0.3" filter="url(#b1)"/>
<ellipse cx="244.7" cy="208.5" rx="2.00" ry="1.20" fill="#b0b8cc" opacity="0.3" filter="url(#b1)"/>
<ellipse cx="244.7" cy="190.0" rx="2.00" ry="1.50" fill="#b8c0d0" opacity="0.2" filter="url(#b1)"/>
<ellipse cx="252.2" cy="201.5" rx="2.00" ry="1.20" fill="#b0b8cc" opacity="0.3" filter="url(#b1)"/>
<ellipse cx="252.2" cy="208.5" rx="2.00" ry="1.20" fill="#b0b8cc" opacity="0.3" filter="url(#b1)"/>
<ellipse cx="252.2" cy="190.0" rx="2.00" ry="1.50" fill="#b8c0d0" opacity="0.2" filter="url(#b1)"/>
<ellipse cx="261.6" cy="201.5" rx="2.00" ry="1.20" fill="#b0b8cc" opacity="0.3" filter="url(#b1)"/>
<ellipse cx="261.6" cy="208.5" rx="2.00" ry="1.20" fill="#b0b8cc" opacity="0.3" filter="url(#b1)"/>
<ellipse cx="261.6" cy="190.0" rx="2.00" ry="1.50" fill="#b8c0d0" opacity="0.2" filter="url(#b1)"/>
<ellipse cx="271.1" cy="201.5" rx="2.00" ry="1.20" fill="#b0b8cc" opacity="0.3" filter="url(#b1)"/>
<ellipse cx="271.1" cy="208.5" rx="2.00" ry="1.20" fill="#b0b8cc" opacity="0.3" filter="url(#b1)"/>
<ellipse cx="271.1" cy="190.0" rx="2.00" ry="1.50" fill="#b8c0d0" opacity="0.2" filter="url(#b1)"/>
<line x1="275.4" y1="159.0" x2="279.8" y2="159.0" stroke="#6f88b8" stroke-width="1.1" opacity="0.8"/>
<line x1="275.4" y1="165.0" x2="279.8" y2="165.0" stroke="#6f88b8" stroke-width="1.1" opacity="0.6"/>
<line x1="275.4" y1="168.5" x2="279.8" y2="168.5" stroke="#6f88b8" stroke-width="1.1" opacity="0.6"/>
<line x1="275.4" y1="180.0" x2="279.8" y2="180.0" stroke="#6f88b8" stroke-width="1.1" opacity="0.6"/>
<line x1="275.4" y1="191.0" x2="279.8" y2="191.0" stroke="#6f88b8" stroke-width="1.1" opacity="0.7"/>
<line x1="275.4" y1="195.6" x2="279.8" y2="195.6" stroke="#6f88b8" stroke-width="1.1" opacity="0.7"/>
<line x1="275.4" y1="205.7" x2="279.8" y2="205.7" stroke="#6f88b8" stroke-width="1.1" opacity="0.95"/>
<line x1="275.4" y1="213.2" x2="279.8" y2="213.2" stroke="#6f88b8" stroke-width="1.1" opacity="0.7"/>
<line x1="275.4" y1="220.8" x2="279.8" y2="220.8" stroke="#6f88b8" stroke-width="1.1" opacity="0.7"/>
<line x1="283.9" y1="157.9" x2="289.6" y2="157.9" stroke="#111" stroke-width="1.3" opacity="1"/>
<path d="M280.3,157.9 L286.3,155.8 L286.3,160.0 Z" fill="#111"/>
<text x="223.0" y="238.6" font-family="Liberation Serif" font-size="7.2" font-weight="normal" fill="#222" stroke="#222" stroke-width="0.12" textLength="42.4" lengthAdjust="spacingAndGlyphs" opacity="1">Human serum</text>
<text x="191.9" y="246.2" font-family="Liberation Serif" font-size="6.0" font-weight="normal" fill="#222" stroke="#222" stroke-width="0.12" textLength="9.4" lengthAdjust="spacingAndGlyphs" opacity="1">FCS</text>
<text x="210.8" y="246.2" font-family="Liberation Serif" font-size="6.0" font-weight="normal" fill="#222" stroke="#222" stroke-width="0.12" textLength="6.4" lengthAdjust="spacingAndGlyphs" opacity="1">H1</text>
<text x="227.1" y="246.2" font-family="Liberation Serif" font-size="6.0" font-weight="normal" fill="#222" stroke="#222" stroke-width="0.12" textLength="6.1" lengthAdjust="spacingAndGlyphs" opacity="1">H2</text>
<text x="243.8" y="246.2" font-family="Liberation Serif" font-size="6.0" font-weight="normal" fill="#222" stroke="#222" stroke-width="0.12" textLength="6.2" lengthAdjust="spacingAndGlyphs" opacity="1">H3</text>
<text x="284.1" y="246.2" font-family="Liberation Serif" font-size="6.0" font-weight="normal" fill="#222" stroke="#222" stroke-width="0.12" textLength="5.7" lengthAdjust="spacingAndGlyphs" opacity="1">H3</text>
<line x1="190.0" y1="249.4" x2="203.8" y2="249.4" stroke="#111" stroke-width="1.6" opacity="1"/>
<line x1="206.9" y1="249.4" x2="221.1" y2="249.4" stroke="#111" stroke-width="1.6" opacity="1"/>
<line x1="223.9" y1="249.4" x2="238.0" y2="249.4" stroke="#111" stroke-width="1.6" opacity="1"/>
<line x1="240.6" y1="249.4" x2="254.8" y2="249.4" stroke="#111" stroke-width="1.6" opacity="1"/>
<line x1="279.0" y1="249.4" x2="292.9" y2="249.4" stroke="#111" stroke-width="1.6" opacity="1"/>
<text x="193.2" y="256.7" font-family="Liberation Serif" font-size="5.6" fill="#222" stroke="#222" stroke-width="0.12" text-anchor="middle">C</text>
<text x="201.3" y="256.7" font-family="Liberation Serif" font-size="5.6" fill="#222" stroke="#222" stroke-width="0.12" text-anchor="middle">3</text>
<text x="210.0" y="256.7" font-family="Liberation Serif" font-size="5.6" fill="#222" stroke="#222" stroke-width="0.12" text-anchor="middle">C</text>
<text x="215.8" y="256.7" font-family="Liberation Serif" font-size="5.6" fill="#222" stroke="#222" stroke-width="0.12" text-anchor="middle">3</text>
<text x="225.4" y="256.7" font-family="Liberation Serif" font-size="5.6" fill="#222" stroke="#222" stroke-width="0.12" text-anchor="middle">C</text>
<text x="233.2" y="256.7" font-family="Liberation Serif" font-size="5.6" fill="#222" stroke="#222" stroke-width="0.12" text-anchor="middle">3</text>
<text x="242.8" y="256.7" font-family="Liberation Serif" font-size="5.6" fill="#222" stroke="#222" stroke-width="0.12" text-anchor="middle">C</text>
<text x="249.5" y="256.7" font-family="Liberation Serif" font-size="5.6" fill="#222" stroke="#222" stroke-width="0.12" text-anchor="middle">3</text>
<text x="277.1" y="254.5" font-family="Liberation Serif" font-size="5.6" font-weight="normal" fill="#222" stroke="#222" stroke-width="0.12" textLength="19.7" lengthAdjust="spacingAndGlyphs" opacity="1">hu-ApoB</text>
<text x="182.2" y="264.5" font-family="Liberation Serif" font-size="5.6" fill="#2a2a2a" stroke="#2a2a2a" stroke-width="0.15" text-anchor="end" opacity="1">kDa</text>
<text x="182.2" y="271.6" font-family="Liberation Serif" font-size="5.6" fill="#2a2a2a" stroke="#2a2a2a" stroke-width="0.15" text-anchor="end" opacity="1">500</text>
<text x="182.2" y="278.2" font-family="Liberation Serif" font-size="5.6" fill="#2a2a2a" stroke="#2a2a2a" stroke-width="0.15" text-anchor="end" opacity="1">290</text>
<text x="182.2" y="283.9" font-family="Liberation Serif" font-size="5.6" fill="#2a2a2a" stroke="#2a2a2a" stroke-width="0.15" text-anchor="end" opacity="1">240</text>
<text x="182.2" y="296.5" font-family="Liberation Serif" font-size="5.6" fill="#2a2a2a" stroke="#2a2a2a" stroke-width="0.15" text-anchor="end" opacity="1">160</text>
<text x="182.2" y="305.4" font-family="Liberation Serif" font-size="5.6" fill="#2a2a2a" stroke="#2a2a2a" stroke-width="0.15" text-anchor="end" opacity="1">116</text>
<text x="182.2" y="311.3" font-family="Liberation Serif" font-size="5.6" fill="#2a2a2a" stroke="#2a2a2a" stroke-width="0.15" text-anchor="end" opacity="1">97</text>
<text x="182.2" y="321.3" font-family="Liberation Serif" font-size="5.6" fill="#2a2a2a" stroke="#2a2a2a" stroke-width="0.15" text-anchor="end" opacity="1">66</text>
<text x="182.2" y="328.1" font-family="Liberation Serif" font-size="5.6" fill="#2a2a2a" stroke="#2a2a2a" stroke-width="0.15" text-anchor="end" opacity="1">55</text>
<text x="182.2" y="336.2" font-family="Liberation Serif" font-size="5.6" fill="#2a2a2a" stroke="#2a2a2a" stroke-width="0.15" text-anchor="end" opacity="1">40</text>
<line x1="183.8" y1="269.5" x2="190.0" y2="269.5" stroke="#9aa0c0" stroke-width="0.8" opacity="0.6"/>
<line x1="183.8" y1="277.0" x2="190.0" y2="277.0" stroke="#9aa0c0" stroke-width="0.8" opacity="0.6"/>
<line x1="183.8" y1="280.8" x2="190.0" y2="280.8" stroke="#9aa0c0" stroke-width="0.8" opacity="0.6"/>
<line x1="183.8" y1="295.0" x2="190.0" y2="295.0" stroke="#9aa0c0" stroke-width="0.8" opacity="0.6"/>
<line x1="183.8" y1="303.8" x2="190.0" y2="303.8" stroke="#9aa0c0" stroke-width="0.8" opacity="0.6"/>
<line x1="183.8" y1="308.8" x2="190.0" y2="308.8" stroke="#9aa0c0" stroke-width="0.8" opacity="0.6"/>
<line x1="183.8" y1="318.8" x2="190.0" y2="318.8" stroke="#9aa0c0" stroke-width="0.8" opacity="0.6"/>
<line x1="183.8" y1="325.5" x2="190.0" y2="325.5" stroke="#9aa0c0" stroke-width="0.8" opacity="0.6"/>
<line x1="183.8" y1="334.5" x2="190.0" y2="334.5" stroke="#9aa0c0" stroke-width="0.8" opacity="0.6"/>
<ellipse cx="193.8" cy="326.8" rx="2.10" ry="1.30" fill="#2f4f94" opacity="0.8" filter="url(#b1)"/>
<ellipse cx="193.8" cy="333.8" rx="1.10" ry="0.65" fill="#7d98d8" opacity="0.35" filter="url(#b1)"/>
<ellipse cx="202.0" cy="326.8" rx="2.10" ry="1.30" fill="#2f4f94" opacity="0.75" filter="url(#b1)"/>
<ellipse cx="202.0" cy="333.8" rx="1.10" ry="0.65" fill="#7d98d8" opacity="0.35" filter="url(#b1)"/>
<ellipse cx="210.0" cy="326.8" rx="2.10" ry="1.30" fill="#2f4f94" opacity="0.95" filter="url(#b1)"/>
<ellipse cx="210.0" cy="333.8" rx="1.10" ry="0.65" fill="#7d98d8" opacity="0.35" filter="url(#b1)"/>
<ellipse cx="217.5" cy="326.8" rx="2.10" ry="1.30" fill="#2f4f94" opacity="0.9" filter="url(#b1)"/>
<ellipse cx="217.5" cy="333.8" rx="1.10" ry="0.65" fill="#7d98d8" opacity="0.35" filter="url(#b1)"/>
<ellipse cx="225.5" cy="326.8" rx="2.10" ry="1.30" fill="#2f4f94" opacity="0.95" filter="url(#b1)"/>
<ellipse cx="225.5" cy="333.8" rx="1.10" ry="0.65" fill="#7d98d8" opacity="0.35" filter="url(#b1)"/>
<ellipse cx="233.8" cy="326.8" rx="2.10" ry="1.30" fill="#2f4f94" opacity="0.9" filter="url(#b1)"/>
<ellipse cx="233.8" cy="333.8" rx="1.10" ry="0.65" fill="#7d98d8" opacity="0.35" filter="url(#b1)"/>
<ellipse cx="241.2" cy="326.8" rx="2.10" ry="1.30" fill="#2f4f94" opacity="0.95" filter="url(#b1)"/>
<ellipse cx="241.2" cy="333.8" rx="1.10" ry="0.65" fill="#7d98d8" opacity="0.35" filter="url(#b1)"/>
<ellipse cx="249.5" cy="326.8" rx="2.10" ry="1.30" fill="#2f4f94" opacity="0.85" filter="url(#b1)"/>
<ellipse cx="249.5" cy="333.8" rx="1.10" ry="0.65" fill="#7d98d8" opacity="0.35" filter="url(#b1)"/>
<ellipse cx="217.5" cy="315.0" rx="1.10" ry="1.00" fill="#a0a4c8" opacity="0.45" filter="url(#b1)"/>
<ellipse cx="233.8" cy="315.0" rx="1.10" ry="1.00" fill="#a0a4c8" opacity="0.45" filter="url(#b1)"/>
<ellipse cx="249.5" cy="315.0" rx="1.10" ry="1.00" fill="#a0a4c8" opacity="0.45" filter="url(#b1)"/>
<rect x="200.3" y="258.6" width="3.4" height="10.6" rx="1.6" fill="#6a8ed0" opacity="0.8" filter="url(#b1)"/>
<ellipse cx="202.0" cy="261.0" rx="1.40" ry="1.30" fill="#4a6fc0" opacity="0.7" filter="url(#b1)"/>
<ellipse cx="202.0" cy="264.2" rx="1.50" ry="1.30" fill="#4a6fc0" opacity="0.75" filter="url(#b1)"/>
<ellipse cx="202.0" cy="267.6" rx="1.50" ry="1.20" fill="#3a62b0" opacity="0.85" filter="url(#b1)"/>
<line x1="254.2" y1="270.0" x2="258.4" y2="270.0" stroke="#7f8ca8" stroke-width="0.9" opacity="0.8"/>
<line x1="268.6" y1="270.0" x2="272.6" y2="270.0" stroke="#a0a8bc" stroke-width="0.8" opacity="0.4"/>
<line x1="254.2" y1="277.5" x2="258.4" y2="277.5" stroke="#7f8ca8" stroke-width="0.9" opacity="0.55"/>
<line x1="268.6" y1="277.5" x2="272.6" y2="277.5" stroke="#a0a8bc" stroke-width="0.8" opacity="0.275"/>
<line x1="254.2" y1="280.0" x2="258.4" y2="280.0" stroke="#7f8ca8" stroke-width="0.9" opacity="0.55"/>
<line x1="268.6" y1="280.0" x2="272.6" y2="280.0" stroke="#a0a8bc" stroke-width="0.8" opacity="0.275"/>
<line x1="254.2" y1="293.8" x2="258.4" y2="293.8" stroke="#7f8ca8" stroke-width="0.9" opacity="0.55"/>
<line x1="268.6" y1="293.8" x2="272.6" y2="293.8" stroke="#a0a8bc" stroke-width="0.8" opacity="0.275"/>
<line x1="254.2" y1="301.2" x2="258.4" y2="301.2" stroke="#7f8ca8" stroke-width="0.9" opacity="0.5"/>
<line x1="268.6" y1="301.2" x2="272.6" y2="301.2" stroke="#a0a8bc" stroke-width="0.8" opacity="0.25"/>
<line x1="254.2" y1="306.2" x2="258.4" y2="306.2" stroke="#7f8ca8" stroke-width="0.9" opacity="0.6"/>
<line x1="268.6" y1="306.2" x2="272.6" y2="306.2" stroke="#a0a8bc" stroke-width="0.8" opacity="0.3"/>
<line x1="254.2" y1="316.2" x2="258.4" y2="316.2" stroke="#7f8ca8" stroke-width="0.9" opacity="0.85"/>
<line x1="268.6" y1="316.2" x2="272.6" y2="316.2" stroke="#a0a8bc" stroke-width="0.8" opacity="0.425"/>
<line x1="254.2" y1="323.8" x2="258.4" y2="323.8" stroke="#7f8ca8" stroke-width="0.9" opacity="0.55"/>
<line x1="268.6" y1="323.8" x2="272.6" y2="323.8" stroke="#a0a8bc" stroke-width="0.8" opacity="0.275"/>
<line x1="254.2" y1="331.2" x2="258.4" y2="331.2" stroke="#7f8ca8" stroke-width="0.9" opacity="0.5"/>
<line x1="268.6" y1="331.2" x2="272.6" y2="331.2" stroke="#a0a8bc" stroke-width="0.8" opacity="0.25"/>
<rect x="284.9" y="252.0" width="2.6" height="82.0" fill="url(#fade)" opacity="0.35" filter="url(#b2)"/>
<rect x="284.3" y="259.5" width="3.9" height="17.5" rx="1.8" fill="#6a8ed0" opacity="0.8" filter="url(#b1)"/>
<ellipse cx="286.2" cy="262.5" rx="1.70" ry="1.70" fill="#4a74c0" opacity="0.7" filter="url(#b1)"/>
<ellipse cx="286.2" cy="266.5" rx="1.80" ry="1.60" fill="#3c64b0" opacity="0.75" filter="url(#b1)"/>
<ellipse cx="286.2" cy="270.5" rx="1.70" ry="1.60" fill="#4a74c0" opacity="0.75" filter="url(#b1)"/>
<ellipse cx="286.2" cy="274.5" rx="1.50" ry="1.20" fill="#4a74c0" opacity="0.6" filter="url(#b1)"/>
<ellipse cx="286.2" cy="295.0" rx="1.50" ry="0.90" fill="#2f4f94" opacity="0.85" filter="url(#b1)"/>
<rect x="284.3" y="320" width="3.9" height="8.6" rx="1.8" fill="#5a82c8" opacity="0.9" filter="url(#b1)"/>
<ellipse cx="286.2" cy="324.5" rx="1.40" ry="1.70" fill="#2f4f94" opacity="0.6" filter="url(#b1)"/>
<ellipse cx="286.2" cy="333.8" rx="1.10" ry="0.65" fill="#7d98d8" opacity="0.35" filter="url(#b1)"/>
<line x1="296.6" y1="270.0" x2="302.3" y2="270.0" stroke="#111" stroke-width="1.3" opacity="1"/>
<path d="M292.9,270.0 L299.0,268.0 L299.0,272.0 Z" fill="#111"/>
<text x="315.8" y="263.8" font-family="Liberation Serif" font-size="5.6" fill="#666" stroke="#666" stroke-width="0.08" text-anchor="end" opacity="1">kDa</text>
<text x="315.8" y="271.2" font-family="Liberation Serif" font-size="5.6" fill="#666" stroke="#666" stroke-width="0.08" text-anchor="end" opacity="1">500</text>
<text x="315.8" y="279.4" font-family="Liberation Serif" font-size="5.6" fill="#666" stroke="#666" stroke-width="0.08" text-anchor="end" opacity="1">290</text>
<text x="315.8" y="283.8" font-family="Liberation Serif" font-size="5.6" fill="#666" stroke="#666" stroke-width="0.08" text-anchor="end" opacity="1">240</text>
<text x="315.8" y="296.2" font-family="Liberation Serif" font-size="5.6" fill="#666" stroke="#666" stroke-width="0.08" text-anchor="end" opacity="1">160</text>
<text x="315.8" y="303.6" font-family="Liberation Serif" font-size="5.6" fill="#666" stroke="#666" stroke-width="0.08" text-anchor="end" opacity="1">116</text>
<text x="315.8" y="308.8" font-family="Liberation Serif" font-size="5.6" fill="#666" stroke="#666" stroke-width="0.08" text-anchor="end" opacity="1">97</text>
<text x="315.8" y="317.7" font-family="Liberation Serif" font-size="5.6" fill="#666" stroke="#666" stroke-width="0.08" text-anchor="end" opacity="1">66</text>
<text x="315.8" y="324.8" font-family="Liberation Serif" font-size="5.6" fill="#666" stroke="#666" stroke-width="0.08" text-anchor="end" opacity="1">55</text>
<text x="315.8" y="331.5" font-family="Liberation Serif" font-size="5.6" fill="#666" stroke="#666" stroke-width="0.08" text-anchor="end" opacity="1">40</text>
<line x1="300.6" y1="295.0" x2="304.5" y2="295.0" stroke="#aaa" stroke-width="0.8" opacity="0.6"/>
<line x1="300.6" y1="301.6" x2="304.5" y2="301.6" stroke="#aaa" stroke-width="0.8" opacity="0.6"/>
<line x1="300.6" y1="306.0" x2="304.5" y2="306.0" stroke="#aaa" stroke-width="0.8" opacity="0.6"/>
<line x1="300.6" y1="315.6" x2="304.5" y2="315.6" stroke="#aaa" stroke-width="0.8" opacity="0.6"/>
<line x1="300.6" y1="322.0" x2="304.5" y2="322.0" stroke="#aaa" stroke-width="0.8" opacity="0.6"/>
<line x1="300.6" y1="330.0" x2="304.5" y2="330.0" stroke="#aaa" stroke-width="0.8" opacity="0.6"/>
<line x1="320.5" y1="28.8" x2="320.5" y2="73.3" stroke="#777" stroke-width="0.9" opacity="1"/>
<line x1="319.5" y1="28.8" x2="320.5" y2="28.8" stroke="#555" stroke-width="0.6" opacity="1"/>
<line x1="319.5" y1="34.4" x2="320.5" y2="34.4" stroke="#555" stroke-width="0.6" opacity="1"/>
<line x1="319.5" y1="39.9" x2="320.5" y2="39.9" stroke="#555" stroke-width="0.6" opacity="1"/>
<line x1="319.5" y1="45.5" x2="320.5" y2="45.5" stroke="#555" stroke-width="0.6" opacity="1"/>
<line x1="319.5" y1="51.0" x2="320.5" y2="51.0" stroke="#555" stroke-width="0.6" opacity="1"/>
<line x1="319.5" y1="56.6" x2="320.5" y2="56.6" stroke="#555" stroke-width="0.6" opacity="1"/>
<line x1="319.5" y1="62.2" x2="320.5" y2="62.2" stroke="#555" stroke-width="0.6" opacity="1"/>
<line x1="319.5" y1="67.7" x2="320.5" y2="67.7" stroke="#555" stroke-width="0.6" opacity="1"/>
<line x1="319.5" y1="73.3" x2="320.5" y2="73.3" stroke="#555" stroke-width="0.6" opacity="1"/>
<line x1="320.2" y1="73.3" x2="403.8" y2="73.3" stroke="#1a1a1a" stroke-width="1.1" opacity="1"/>
<line x1="403.8" y1="28.8" x2="403.8" y2="73.3" stroke="#555" stroke-width="0.9" opacity="1"/>
<line x1="320.5" y1="73.3" x2="320.5" y2="74.3" stroke="#444" stroke-width="0.6" opacity="1"/>
<text x="318.6" y="79.5" font-family="Liberation Serif" font-size="3.9" fill="#333" stroke="#333" stroke-width="0.1">10</text>
<text x="322.4" y="77.5" font-family="Liberation Serif" font-size="2.9" fill="#333">0</text>
<line x1="341.3" y1="73.3" x2="341.3" y2="74.3" stroke="#444" stroke-width="0.6" opacity="1"/>
<text x="339.4" y="79.5" font-family="Liberation Serif" font-size="3.9" fill="#333" stroke="#333" stroke-width="0.1">10</text>
<text x="343.2" y="77.5" font-family="Liberation Serif" font-size="2.9" fill="#333">1</text>
<line x1="362.1" y1="73.3" x2="362.1" y2="74.3" stroke="#444" stroke-width="0.6" opacity="1"/>
<text x="360.2" y="79.5" font-family="Liberation Serif" font-size="3.9" fill="#333" stroke="#333" stroke-width="0.1">10</text>
<text x="364.0" y="77.5" font-family="Liberation Serif" font-size="2.9" fill="#333">2</text>
<line x1="383.0" y1="73.3" x2="383.0" y2="74.3" stroke="#444" stroke-width="0.6" opacity="1"/>
<text x="381.1" y="79.5" font-family="Liberation Serif" font-size="3.9" fill="#333" stroke="#333" stroke-width="0.1">10</text>
<text x="384.9" y="77.5" font-family="Liberation Serif" font-size="2.9" fill="#333">3</text>
<line x1="403.8" y1="73.3" x2="403.8" y2="74.3" stroke="#444" stroke-width="0.6" opacity="1"/>
<text x="401.9" y="79.5" font-family="Liberation Serif" font-size="3.9" fill="#333" stroke="#333" stroke-width="0.1">10</text>
<text x="405.7" y="77.5" font-family="Liberation Serif" font-size="2.9" fill="#333">4</text>
<text transform="translate(318.0,35.4) rotate(-90)" font-family="Liberation Serif" font-size="4.0" fill="#333" stroke="#333" stroke-width="0.12">128</text>
<text x="314.9" y="74.7" font-family="Liberation Serif" font-size="3.9" fill="#444">0</text>
<path d="M320.80,68.39 L321.30,67.17 L321.80,65.75 L322.30,64.14 L322.80,62.33 L323.30,60.35 L323.80,58.23 L324.30,56.01 L324.80,53.74 L325.30,51.48 L325.80,49.31 L326.30,47.29 L326.80,45.50 L327.30,44.00 L327.80,42.86 L328.30,42.12 L328.80,41.81 L329.30,41.90 L329.80,42.33 L330.30,43.06 L330.80,44.08 L331.30,45.36 L331.80,46.86 L332.30,48.54 L332.80,50.35 L333.30,52.25 L333.80,54.19 L334.30,56.14 L334.80,58.04 L335.30,59.88 L335.80,61.61 L336.30,63.23 L336.80,64.71 L337.30,66.05 L337.80,67.25 L338.30,68.30 L338.80,69.21 L339.30,69.99 L339.80,70.65 L340.30,71.20 L340.80,71.65 L341.30,72.02 L341.80,72.32 L342.30,72.55 L342.80,72.74 L343.30,72.88 L343.80,72.99 L344.30,73.07" fill="none" stroke="#1a1a1a" stroke-width="0.9" stroke-linejoin="round" opacity="1"/>
<path d="M320.80,69.17 L321.30,68.13 L321.80,66.90 L322.30,65.50 L322.80,63.91 L323.30,62.15 L323.80,60.24 L324.30,58.20 L324.80,56.09 L325.30,53.94 L325.80,51.82 L326.30,49.78 L326.80,47.90 L327.30,46.23 L327.80,44.84 L328.30,43.78 L328.80,43.10 L329.30,42.81 L329.80,42.90 L330.30,43.31 L330.80,44.02 L331.30,45.01 L331.80,46.25 L332.30,47.70 L332.80,49.33 L333.30,51.08 L333.80,52.92 L334.30,54.80 L334.80,56.68 L335.30,58.53 L335.80,60.30 L336.30,61.98 L336.80,63.55 L337.30,64.99 L337.80,66.28 L338.30,67.44 L338.80,68.46 L339.30,69.34 L339.80,70.09 L340.30,70.73 L340.80,71.26 L341.30,71.70 L341.80,72.06 L342.30,72.35 L342.80,72.57 L343.30,72.75 L343.80,72.89 L344.30,73.00 L344.80,73.08" fill="none" stroke="#444" stroke-width="0.7" stroke-dasharray="1.5,1" stroke-linejoin="round" opacity="1"/>
<path d="M327.50,73.08 L328.00,73.00 L328.50,72.90 L329.00,72.77 L329.50,72.59 L330.00,72.37 L330.50,72.10 L331.00,71.75 L331.50,71.33 L332.00,70.82 L332.50,70.20 L333.00,69.48 L333.50,68.63 L334.00,67.64 L334.50,66.52 L335.00,65.26 L335.50,63.85 L336.00,62.31 L336.50,60.65 L337.00,58.88 L337.50,57.02 L338.00,55.11 L338.50,53.18 L339.00,51.26 L339.50,49.40 L340.00,47.64 L340.50,46.03 L341.00,44.60 L341.50,43.40 L342.00,42.46 L342.50,41.81 L343.00,41.46 L343.50,41.44 L344.00,41.94 L344.50,42.95 L345.00,44.44 L345.50,46.32 L346.00,48.52 L346.50,50.92 L347.00,53.44 L347.50,55.98 L348.00,58.45 L348.50,60.79 L349.00,62.94 L349.50,64.87 L350.00,66.56 L350.50,68.00 L351.00,69.21 L351.50,70.19 L352.00,70.98 L352.50,71.60 L353.00,72.07 L353.50,72.43 L354.00,72.69 L354.50,72.89 L355.00,73.02 L355.50,73.12" fill="none" stroke="#999" stroke-width="0.8" stroke-linejoin="round" opacity="1"/>
<path d="M333.50,73.13 L334.00,73.05 L334.50,72.93 L335.00,72.77 L335.50,72.55 L336.00,72.25 L336.50,71.87 L337.00,71.37 L337.50,70.74 L338.00,69.95 L338.50,69.00 L339.00,67.85 L339.50,66.51 L340.00,64.97 L340.50,63.23 L341.00,61.33 L341.50,59.28 L342.00,57.14 L342.50,54.96 L343.00,52.81 L343.50,50.76 L344.00,48.89 L344.50,47.27 L345.00,45.98 L345.50,45.07 L346.00,44.58 L346.50,44.52 L347.00,44.76 L347.50,45.26 L348.00,46.00 L348.50,46.97 L349.00,48.13 L349.50,49.47 L350.00,50.94 L350.50,52.52 L351.00,54.16 L351.50,55.83 L352.00,57.51 L352.50,59.15 L353.00,60.74 L353.50,62.26 L354.00,63.68 L354.50,64.99 L355.00,66.20 L355.50,67.28 L356.00,68.24 L356.50,69.09 L357.00,69.83 L357.50,70.47 L358.00,71.01 L358.50,71.46 L359.00,71.84 L359.50,72.15 L360.00,72.40 L360.50,72.61 L361.00,72.77 L361.50,72.90 L362.00,73.00 L362.50,73.08" fill="none" stroke="#111" stroke-width="1.6" stroke-linejoin="round" opacity="1"/>
<line x1="343.2" y1="40.5" x2="354.4" y2="35.2" stroke="#111" stroke-width="0.8" opacity="1"/>
<line x1="351.5" y1="54.8" x2="363.6" y2="48.5" stroke="#111" stroke-width="0.8" opacity="1"/>
<circle cx="343.6" cy="40.3" r="1.0" fill="#111"/>
<circle cx="351.8" cy="54.6" r="1.0" fill="#111"/>
<text x="356.1" y="38.2" font-family="Liberation Serif" font-size="6.8" font-weight="normal" fill="#222" stroke="#222" stroke-width="0.12" textLength="18.7" lengthAdjust="spacingAndGlyphs" opacity="1">10%LD</text>
<text x="364.2" y="50.5" font-family="Liberation Serif" font-size="6.8" font-weight="normal" fill="#222" stroke="#222" stroke-width="0.12" textLength="21.7" lengthAdjust="spacingAndGlyphs" opacity="1">10%FCS</text>
<text x="381.5" y="40.9" font-family="Liberation Serif" font-size="7.2" font-weight="normal" fill="#222" stroke="#222" stroke-width="0.12" textLength="15.6" lengthAdjust="spacingAndGlyphs" opacity="1">3E8.1</text>
<line x1="319.6" y1="88.5" x2="319.6" y2="132.1" stroke="#777" stroke-width="0.9" opacity="1"/>
<line x1="318.6" y1="88.5" x2="319.6" y2="88.5" stroke="#555" stroke-width="0.6" opacity="1"/>
<line x1="318.6" y1="94.0" x2="319.6" y2="94.0" stroke="#555" stroke-width="0.6" opacity="1"/>
<line x1="318.6" y1="99.4" x2="319.6" y2="99.4" stroke="#555" stroke-width="0.6" opacity="1"/>
<line x1="318.6" y1="104.8" x2="319.6" y2="104.8" stroke="#555" stroke-width="0.6" opacity="1"/>
<line x1="318.6" y1="110.3" x2="319.6" y2="110.3" stroke="#555" stroke-width="0.6" opacity="1"/>
<line x1="318.6" y1="115.8" x2="319.6" y2="115.8" stroke="#555" stroke-width="0.6" opacity="1"/>
<line x1="318.6" y1="121.2" x2="319.6" y2="121.2" stroke="#555" stroke-width="0.6" opacity="1"/>
<line x1="318.6" y1="126.6" x2="319.6" y2="126.6" stroke="#555" stroke-width="0.6" opacity="1"/>
<line x1="318.6" y1="132.1" x2="319.6" y2="132.1" stroke="#555" stroke-width="0.6" opacity="1"/>
<line x1="319.3" y1="132.1" x2="403.5" y2="132.1" stroke="#1a1a1a" stroke-width="1.1" opacity="1"/>
<line x1="319.6" y1="88.5" x2="403.5" y2="88.5" stroke="#777" stroke-width="0.9" opacity="1"/>
<line x1="403.5" y1="88.5" x2="403.5" y2="132.1" stroke="#777" stroke-width="0.9" opacity="1"/>
<line x1="319.6" y1="132.1" x2="319.6" y2="133.1" stroke="#444" stroke-width="0.6" opacity="1"/>
<text x="317.7" y="138.3" font-family="Liberation Serif" font-size="3.9" fill="#333" stroke="#333" stroke-width="0.1">10</text>
<text x="321.5" y="136.3" font-family="Liberation Serif" font-size="2.9" fill="#333">0</text>
<line x1="340.6" y1="132.1" x2="340.6" y2="133.1" stroke="#444" stroke-width="0.6" opacity="1"/>
<text x="338.7" y="138.3" font-family="Liberation Serif" font-size="3.9" fill="#333" stroke="#333" stroke-width="0.1">10</text>
<text x="342.5" y="136.3" font-family="Liberation Serif" font-size="2.9" fill="#333">1</text>
<line x1="361.6" y1="132.1" x2="361.6" y2="133.1" stroke="#444" stroke-width="0.6" opacity="1"/>
<text x="359.7" y="138.3" font-family="Liberation Serif" font-size="3.9" fill="#333" stroke="#333" stroke-width="0.1">10</text>
<text x="363.4" y="136.3" font-family="Liberation Serif" font-size="2.9" fill="#333">2</text>
<line x1="382.5" y1="132.1" x2="382.5" y2="133.1" stroke="#444" stroke-width="0.6" opacity="1"/>
<text x="380.6" y="138.3" font-family="Liberation Serif" font-size="3.9" fill="#333" stroke="#333" stroke-width="0.1">10</text>
<text x="384.4" y="136.3" font-family="Liberation Serif" font-size="2.9" fill="#333">3</text>
<line x1="403.5" y1="132.1" x2="403.5" y2="133.1" stroke="#444" stroke-width="0.6" opacity="1"/>
<text x="401.6" y="138.3" font-family="Liberation Serif" font-size="3.9" fill="#333" stroke="#333" stroke-width="0.1">10</text>
<text x="405.4" y="136.3" font-family="Liberation Serif" font-size="2.9" fill="#333">4</text>
<text transform="translate(317.1,95.1) rotate(-90)" font-family="Liberation Serif" font-size="4.0" fill="#333" stroke="#333" stroke-width="0.12">128</text>
<text x="314.0" y="133.5" font-family="Liberation Serif" font-size="3.9" fill="#444">0</text>
<path d="M320.00,125.60 L320.50,124.39 L321.00,123.04 L321.50,121.55 L322.00,119.93 L322.50,118.19 L323.00,116.36 L323.50,114.47 L324.00,112.55 L324.50,110.64 L325.00,108.78 L325.50,107.01 L326.00,105.38 L326.50,103.94 L327.00,102.73 L327.50,101.78 L328.00,101.11 L328.50,100.76 L329.00,100.73 L329.50,101.04 L330.00,101.70 L330.50,102.67 L331.00,103.93 L331.50,105.43 L332.00,107.13 L332.50,108.99 L333.00,110.94 L333.50,112.94 L334.00,114.94 L334.50,116.89 L335.00,118.77 L335.50,120.54 L336.00,122.18 L336.50,123.67 L337.00,125.01 L337.50,126.19 L338.00,127.22 L338.50,128.10 L339.00,128.85 L339.50,129.47 L340.00,129.98 L340.50,130.40 L341.00,130.73 L341.50,130.99 L342.00,131.20 L342.50,131.36 L343.00,131.48 L343.50,131.57" fill="none" stroke="#222" stroke-width="1.2" stroke-linejoin="round" opacity="1"/>
<path d="M320.00,126.19 L320.50,125.09 L321.00,123.85 L321.50,122.48 L322.00,120.99 L322.50,119.37 L323.00,117.66 L323.50,115.87 L324.00,114.04 L324.50,112.19 L325.00,110.37 L325.50,108.61 L326.00,106.95 L326.50,105.44 L327.00,104.11 L327.50,103.01 L328.00,102.17 L328.50,101.60 L329.00,101.32 L329.50,101.36 L330.00,101.72 L330.50,102.40 L331.00,103.37 L331.50,104.61 L332.00,106.07 L332.50,107.72 L333.00,109.51 L333.50,111.38 L334.00,113.30 L334.50,115.22 L335.00,117.10 L335.50,118.91 L336.00,120.62 L336.50,122.20 L337.00,123.65 L337.50,124.96 L338.00,126.12 L338.50,127.13 L339.00,128.01 L339.50,128.75 L340.00,129.37 L340.50,129.89 L341.00,130.31 L341.50,130.66 L342.00,130.93 L342.50,131.14 L343.00,131.31 L343.50,131.44 L344.00,131.54 L344.50,131.61" fill="none" stroke="#777" stroke-width="0.6" stroke-dasharray="1.5,1" stroke-linejoin="round" opacity="1"/>
<path d="M343.50,131.63 L344.00,131.54 L344.50,131.42 L345.00,131.24 L345.50,131.01 L346.00,130.69 L346.50,130.27 L347.00,129.71 L347.50,129.00 L348.00,128.11 L348.50,127.01 L349.00,125.68 L349.50,124.10 L350.00,122.26 L350.50,120.17 L351.00,117.84 L351.50,115.30 L352.00,112.60 L352.50,109.80 L353.00,106.99 L353.50,104.25 L354.00,101.68 L354.50,99.39 L355.00,97.46 L355.50,95.98 L356.00,95.02 L356.50,94.61 L357.00,94.77 L357.50,95.44 L358.00,96.61 L358.50,98.22 L359.00,100.20 L359.50,102.49 L360.00,104.99 L360.50,107.63 L361.00,110.31 L361.50,112.96 L362.00,115.52 L362.50,117.93 L363.00,120.15 L363.50,122.15 L364.00,123.92 L364.50,125.46 L365.00,126.77 L365.50,127.86 L366.00,128.76 L366.50,129.49 L367.00,130.07 L367.50,130.52 L368.00,130.87 L368.50,131.13 L369.00,131.32 L369.50,131.47 L370.00,131.57" fill="none" stroke="#111" stroke-width="1.5" stroke-linejoin="round" opacity="1"/>
<path d="M343.50,131.60 L344.00,131.50 L344.50,131.36 L345.00,131.17 L345.50,130.91 L346.00,130.55 L346.50,130.09 L347.00,129.49 L347.50,128.72 L348.00,127.76 L348.50,126.59 L349.00,125.19 L349.50,123.53 L350.00,121.62 L350.50,119.47 L351.00,117.09 L351.50,114.52 L352.00,111.81 L352.50,109.05 L353.00,106.30 L353.50,103.66 L354.00,101.23 L354.50,99.10 L355.00,97.37 L355.50,96.11 L356.00,95.38 L356.50,95.21 L357.00,95.55 L357.50,96.38 L358.00,97.65 L358.50,99.31 L359.00,101.31 L359.50,103.58 L360.00,106.02 L360.50,108.57 L361.00,111.15 L361.50,113.69 L362.00,116.13 L362.50,118.42 L363.00,120.53 L363.50,122.44 L364.00,124.12 L364.50,125.59 L365.00,126.85 L365.50,127.90 L366.00,128.77 L366.50,129.48 L367.00,130.05 L367.50,130.49 L368.00,130.84 L368.50,131.10 L369.00,131.30 L369.50,131.45 L370.00,131.55" fill="none" stroke="#777" stroke-width="0.6" stroke-linejoin="round" opacity="1"/>
<line x1="319.9" y1="109.7" x2="319.9" y2="132.1" stroke="#111" stroke-width="1.2" opacity="1"/>
<text x="375.6" y="100.0" font-family="Liberation Serif" font-size="7.3" font-weight="normal" fill="#222" stroke="#222" stroke-width="0.12" textLength="18.2" lengthAdjust="spacingAndGlyphs" opacity="1">H-2Kk</text>
<line x1="319.2" y1="150.7" x2="319.2" y2="194.4" stroke="#777" stroke-width="0.9" opacity="1"/>
<line x1="318.2" y1="150.7" x2="319.2" y2="150.7" stroke="#555" stroke-width="0.6" opacity="1"/>
<line x1="318.2" y1="156.2" x2="319.2" y2="156.2" stroke="#555" stroke-width="0.6" opacity="1"/>
<line x1="318.2" y1="161.6" x2="319.2" y2="161.6" stroke="#555" stroke-width="0.6" opacity="1"/>
<line x1="318.2" y1="167.1" x2="319.2" y2="167.1" stroke="#555" stroke-width="0.6" opacity="1"/>
<line x1="318.2" y1="172.6" x2="319.2" y2="172.6" stroke="#555" stroke-width="0.6" opacity="1"/>
<line x1="318.2" y1="178.0" x2="319.2" y2="178.0" stroke="#555" stroke-width="0.6" opacity="1"/>
<line x1="318.2" y1="183.5" x2="319.2" y2="183.5" stroke="#555" stroke-width="0.6" opacity="1"/>
<line x1="318.2" y1="188.9" x2="319.2" y2="188.9" stroke="#555" stroke-width="0.6" opacity="1"/>
<line x1="318.2" y1="194.4" x2="319.2" y2="194.4" stroke="#555" stroke-width="0.6" opacity="1"/>
<line x1="318.9" y1="194.4" x2="403.3" y2="194.4" stroke="#1a1a1a" stroke-width="1.1" opacity="1"/>
<line x1="319.2" y1="150.7" x2="403.3" y2="150.7" stroke="#555" stroke-width="0.9" opacity="1"/>
<line x1="319.2" y1="194.4" x2="319.2" y2="195.4" stroke="#444" stroke-width="0.6" opacity="1"/>
<text x="317.3" y="200.6" font-family="Liberation Serif" font-size="3.9" fill="#333" stroke="#333" stroke-width="0.1">10</text>
<text x="321.1" y="198.6" font-family="Liberation Serif" font-size="2.9" fill="#333">0</text>
<line x1="340.2" y1="194.4" x2="340.2" y2="195.4" stroke="#444" stroke-width="0.6" opacity="1"/>
<text x="338.3" y="200.6" font-family="Liberation Serif" font-size="3.9" fill="#333" stroke="#333" stroke-width="0.1">10</text>
<text x="342.1" y="198.6" font-family="Liberation Serif" font-size="2.9" fill="#333">1</text>
<line x1="361.2" y1="194.4" x2="361.2" y2="195.4" stroke="#444" stroke-width="0.6" opacity="1"/>
<text x="359.4" y="200.6" font-family="Liberation Serif" font-size="3.9" fill="#333" stroke="#333" stroke-width="0.1">10</text>
<text x="363.1" y="198.6" font-family="Liberation Serif" font-size="2.9" fill="#333">2</text>
<line x1="382.3" y1="194.4" x2="382.3" y2="195.4" stroke="#444" stroke-width="0.6" opacity="1"/>
<text x="380.4" y="200.6" font-family="Liberation Serif" font-size="3.9" fill="#333" stroke="#333" stroke-width="0.1">10</text>
<text x="384.2" y="198.6" font-family="Liberation Serif" font-size="2.9" fill="#333">3</text>
<line x1="403.3" y1="194.4" x2="403.3" y2="195.4" stroke="#444" stroke-width="0.6" opacity="1"/>
<text x="401.4" y="200.6" font-family="Liberation Serif" font-size="3.9" fill="#333" stroke="#333" stroke-width="0.1">10</text>
<text x="405.2" y="198.6" font-family="Liberation Serif" font-size="2.9" fill="#333">4</text>
<text transform="translate(316.7,157.3) rotate(-90)" font-family="Liberation Serif" font-size="4.0" fill="#333" stroke="#333" stroke-width="0.12">128</text>
<text x="313.6" y="195.8" font-family="Liberation Serif" font-size="3.9" fill="#444">0</text>
<path d="M319.60,189.79 L320.10,188.72 L320.60,187.48 L321.10,186.09 L321.60,184.53 L322.10,182.83 L322.60,180.99 L323.10,179.06 L323.60,177.07 L324.10,175.06 L324.60,173.08 L325.10,171.18 L325.60,169.43 L326.10,167.87 L326.60,166.56 L327.10,165.54 L327.60,164.86 L328.10,164.53 L328.60,164.56 L329.10,164.93 L329.60,165.62 L330.10,166.61 L330.60,167.87 L331.10,169.36 L331.60,171.03 L332.10,172.84 L332.60,174.73 L333.10,176.65 L333.60,178.57 L334.10,180.44 L334.60,182.22 L335.10,183.90 L335.60,185.45 L336.10,186.86 L336.60,188.11 L337.10,189.22 L337.60,190.18 L338.10,191.00 L338.60,191.69 L339.10,192.27 L339.60,192.74 L340.10,193.12 L340.60,193.43 L341.10,193.67 L341.60,193.85 L342.10,194.00 L342.60,194.11 L343.10,194.19" fill="none" stroke="#333" stroke-width="0.8" stroke-linejoin="round" opacity="1"/>
<path d="M319.60,193.29 L320.10,192.91 L320.60,192.42 L321.10,191.81 L321.60,191.05 L322.10,190.14 L322.60,189.04 L323.10,187.76 L323.60,186.28 L324.10,184.60 L324.60,182.73 L325.10,180.69 L325.60,178.52 L326.10,176.24 L326.60,173.92 L327.10,171.61 L327.60,169.38 L328.10,167.30 L328.60,165.45 L329.10,163.88 L329.60,162.66 L330.10,161.83 L330.60,161.44 L331.10,161.48 L331.60,161.97 L332.10,162.87 L332.60,164.17 L333.10,165.80 L333.60,167.70 L334.10,169.82 L334.60,172.07 L335.10,174.38 L335.60,176.70 L336.10,178.96 L336.60,181.11 L337.10,183.12 L337.60,184.95 L338.10,186.59 L338.60,188.03 L339.10,189.28 L339.60,190.34 L340.10,191.22 L340.60,191.94 L341.10,192.53 L341.60,192.99 L342.10,193.36 L342.60,193.64 L343.10,193.85 L343.60,194.01 L344.10,194.12 L344.60,194.21" fill="none" stroke="#444" stroke-width="0.8" stroke-dasharray="1.5,1" stroke-linejoin="round" opacity="1"/>
<path d="M331.00,194.18 L331.50,194.13 L332.00,194.05 L332.50,193.97 L333.00,193.86 L333.50,193.73 L334.00,193.57 L334.50,193.39 L335.00,193.17 L335.50,192.91 L336.00,192.61 L336.50,192.27 L337.00,191.87 L337.50,191.41 L338.00,190.89 L338.50,190.31 L339.00,189.67 L339.50,188.95 L340.00,188.16 L340.50,187.31 L341.00,186.38 L341.50,185.39 L342.00,184.34 L342.50,183.23 L343.00,182.08 L343.50,180.89 L344.00,179.67 L344.50,178.45 L345.00,177.22 L345.50,176.02 L346.00,174.85 L346.50,173.73 L347.00,172.69 L347.50,171.72 L348.00,170.86 L348.50,170.12 L349.00,169.50 L349.50,169.03 L350.00,168.70 L350.50,168.53 L351.00,168.54 L351.50,168.99 L352.00,169.90 L352.50,171.23 L353.00,172.91 L353.50,174.85 L354.00,176.95 L354.50,179.13 L355.00,181.29 L355.50,183.35 L356.00,185.27 L356.50,187.01 L357.00,188.52 L357.50,189.82 L358.00,190.89 L358.50,191.77 L359.00,192.47 L359.50,193.00 L360.00,193.41 L360.50,193.71 L361.00,193.93 L361.50,194.09 L362.00,194.20" fill="none" stroke="#999" stroke-width="0.7" stroke-linejoin="round" opacity="1"/>
<path d="M336.50,194.19 L337.00,194.12 L337.50,194.04 L338.00,193.93 L338.50,193.80 L339.00,193.63 L339.50,193.42 L340.00,193.18 L340.50,192.88 L341.00,192.52 L341.50,192.10 L342.00,191.60 L342.50,191.03 L343.00,190.37 L343.50,189.63 L344.00,188.80 L344.50,187.87 L345.00,186.86 L345.50,185.75 L346.00,184.57 L346.50,183.32 L347.00,182.01 L347.50,180.67 L348.00,179.30 L348.50,177.93 L349.00,176.58 L349.50,175.29 L350.00,174.06 L350.50,172.94 L351.00,171.94 L351.50,171.09 L352.00,170.41 L352.50,169.91 L353.00,169.60 L353.50,169.50 L354.00,169.64 L354.50,170.06 L355.00,170.74 L355.50,171.66 L356.00,172.78 L356.50,174.09 L357.00,175.53 L357.50,177.07 L358.00,178.66 L358.50,180.26 L359.00,181.84 L359.50,183.38 L360.00,184.83 L360.50,186.19 L361.00,187.43 L361.50,188.55 L362.00,189.55 L362.50,190.42 L363.00,191.17 L363.50,191.81 L364.00,192.35 L364.50,192.79 L365.00,193.15 L365.50,193.44 L366.00,193.68 L366.50,193.86 L367.00,194.00 L367.50,194.11 L368.00,194.19" fill="none" stroke="#111" stroke-width="1.6" stroke-linejoin="round" opacity="1"/>
<line x1="319.6" y1="171.6" x2="319.6" y2="194.4" stroke="#111" stroke-width="1.2" opacity="1"/>
<text x="368.7" y="163.2" font-family="Liberation Serif" font-size="7.5" font-weight="normal" fill="#222" stroke="#222" stroke-width="0.12" textLength="26.4" lengthAdjust="spacingAndGlyphs" opacity="1">hu-Apo B</text>
<line x1="352.3" y1="211.7" x2="361.5" y2="211.7" stroke="#222" stroke-width="0.9" opacity="1"/>
<text x="363.8" y="214.8" font-family="Liberation Serif" font-size="6.8" font-weight="normal" fill="#222" stroke="#222" stroke-width="0.12" textLength="43.9" lengthAdjust="spacingAndGlyphs" opacity="1">10%FCS, control</text>
<line x1="352.3" y1="220.6" x2="361.5" y2="220.6" stroke="#222" stroke-width="0.9" stroke-dasharray="3,2.2" opacity="1"/>
<text x="363.8" y="223.2" font-family="Liberation Serif" font-size="6.8" font-weight="normal" fill="#222" stroke="#222" stroke-width="0.12" textLength="42.1" lengthAdjust="spacingAndGlyphs" opacity="1">10%LD, control</text>
<line x1="352.3" y1="228.6" x2="361.5" y2="228.6" stroke="#111" stroke-width="2.0" opacity="1"/>
<text x="363.8" y="231.5" font-family="Liberation Serif" font-size="6.8" font-weight="normal" fill="#222" stroke="#222" stroke-width="0.12" textLength="22.9" lengthAdjust="spacingAndGlyphs" opacity="1">10%FCS</text>
<line x1="352.3" y1="237.1" x2="361.5" y2="237.1" stroke="#777" stroke-width="1.1" opacity="1"/>
<text x="363.8" y="239.6" font-family="Liberation Serif" font-size="6.8" font-weight="normal" fill="#222" stroke="#222" stroke-width="0.12" textLength="20.6" lengthAdjust="spacingAndGlyphs" opacity="1">10%LD</text>
<line x1="427.6" y1="29.2" x2="427.6" y2="73.0" stroke="#777" stroke-width="0.9" opacity="1"/>
<line x1="426.6" y1="29.2" x2="427.6" y2="29.2" stroke="#555" stroke-width="0.6" opacity="1"/>
<line x1="426.6" y1="34.7" x2="427.6" y2="34.7" stroke="#555" stroke-width="0.6" opacity="1"/>
<line x1="426.6" y1="40.1" x2="427.6" y2="40.1" stroke="#555" stroke-width="0.6" opacity="1"/>
<line x1="426.6" y1="45.6" x2="427.6" y2="45.6" stroke="#555" stroke-width="0.6" opacity="1"/>
<line x1="426.6" y1="51.1" x2="427.6" y2="51.1" stroke="#555" stroke-width="0.6" opacity="1"/>
<line x1="426.6" y1="56.6" x2="427.6" y2="56.6" stroke="#555" stroke-width="0.6" opacity="1"/>
<line x1="426.6" y1="62.0" x2="427.6" y2="62.0" stroke="#555" stroke-width="0.6" opacity="1"/>
<line x1="426.6" y1="67.5" x2="427.6" y2="67.5" stroke="#555" stroke-width="0.6" opacity="1"/>
<line x1="426.6" y1="73.0" x2="427.6" y2="73.0" stroke="#555" stroke-width="0.6" opacity="1"/>
<line x1="427.3" y1="73.0" x2="516.3" y2="73.0" stroke="#1a1a1a" stroke-width="1.1" opacity="1"/>
<line x1="427.6" y1="29.2" x2="516.3" y2="29.2" stroke="#555" stroke-width="0.9" opacity="1"/>
<line x1="516.3" y1="29.2" x2="516.3" y2="73.0" stroke="#555" stroke-width="0.9" opacity="1"/>
<line x1="427.6" y1="73.0" x2="427.6" y2="74.0" stroke="#444" stroke-width="0.6" opacity="1"/>
<text x="425.7" y="79.2" font-family="Liberation Serif" font-size="3.9" fill="#333" stroke="#333" stroke-width="0.1">10</text>
<text x="429.5" y="77.2" font-family="Liberation Serif" font-size="2.9" fill="#333">0</text>
<line x1="449.8" y1="73.0" x2="449.8" y2="74.0" stroke="#444" stroke-width="0.6" opacity="1"/>
<text x="447.9" y="79.2" font-family="Liberation Serif" font-size="3.9" fill="#333" stroke="#333" stroke-width="0.1">10</text>
<text x="451.7" y="77.2" font-family="Liberation Serif" font-size="2.9" fill="#333">1</text>
<line x1="471.9" y1="73.0" x2="471.9" y2="74.0" stroke="#444" stroke-width="0.6" opacity="1"/>
<text x="470.1" y="79.2" font-family="Liberation Serif" font-size="3.9" fill="#333" stroke="#333" stroke-width="0.1">10</text>
<text x="473.8" y="77.2" font-family="Liberation Serif" font-size="2.9" fill="#333">2</text>
<line x1="494.1" y1="73.0" x2="494.1" y2="74.0" stroke="#444" stroke-width="0.6" opacity="1"/>
<text x="492.2" y="79.2" font-family="Liberation Serif" font-size="3.9" fill="#333" stroke="#333" stroke-width="0.1">10</text>
<text x="496.0" y="77.2" font-family="Liberation Serif" font-size="2.9" fill="#333">3</text>
<line x1="516.3" y1="73.0" x2="516.3" y2="74.0" stroke="#444" stroke-width="0.6" opacity="1"/>
<text x="514.4" y="79.2" font-family="Liberation Serif" font-size="3.9" fill="#333" stroke="#333" stroke-width="0.1">10</text>
<text x="518.2" y="77.2" font-family="Liberation Serif" font-size="2.9" fill="#333">4</text>
<text transform="translate(425.1,35.8) rotate(-90)" font-family="Liberation Serif" font-size="4.0" fill="#333" stroke="#333" stroke-width="0.12">128</text>
<text x="422.0" y="74.4" font-family="Liberation Serif" font-size="3.9" fill="#444">0</text>
<path d="M431.00,72.53 L431.50,72.43 L432.00,72.28 L432.50,72.06 L433.00,71.75 L433.50,71.32 L434.00,70.72 L434.50,69.93 L435.00,68.90 L435.50,67.60 L436.00,65.98 L436.50,64.03 L437.00,61.73 L437.50,59.11 L438.00,56.20 L438.50,53.08 L439.00,49.83 L439.50,46.59 L440.00,43.49 L440.50,40.68 L441.00,38.31 L441.50,36.51 L442.00,35.38 L442.50,35.00 L443.00,35.36 L443.50,36.43 L444.00,38.13 L444.50,40.39 L445.00,43.08 L445.50,46.06 L446.00,49.20 L446.50,52.36 L447.00,55.44 L447.50,58.33 L448.00,60.96 L448.50,63.30 L449.00,65.31 L449.50,67.01 L450.00,68.40 L450.50,69.51 L451.00,70.38 L451.50,71.04 L452.00,71.54 L452.50,71.90 L453.00,72.16 L453.50,72.35 L454.00,72.47 L454.00,72.70 L431.00,72.70 Z" fill="#69bf52" stroke="none"/>
<path d="M431.00,72.53 L431.50,72.43 L432.00,72.28 L432.50,72.06 L433.00,71.75 L433.50,71.32 L434.00,70.72 L434.50,69.93 L435.00,68.90 L435.50,67.60 L436.00,65.98 L436.50,64.03 L437.00,61.73 L437.50,59.11 L438.00,56.20 L438.50,53.08 L439.00,49.83 L439.50,46.59 L440.00,43.49 L440.50,40.68 L441.00,38.31 L441.50,36.51 L442.00,35.38 L442.50,35.00 L443.00,35.36 L443.50,36.43 L444.00,38.13 L444.50,40.39 L445.00,43.08 L445.50,46.06 L446.00,49.20 L446.50,52.36 L447.00,55.44 L447.50,58.33 L448.00,60.96 L448.50,63.30 L449.00,65.31 L449.50,67.01 L450.00,68.40 L450.50,69.51 L451.00,70.38 L451.50,71.04 L452.00,71.54 L452.50,71.90 L453.00,72.16 L453.50,72.35 L454.00,72.47" fill="none" stroke="#22441a" stroke-width="0.8" stroke-linejoin="round" opacity="1"/>
<path d="M448.76,72.47 L449.26,72.28 L449.76,71.96 L450.26,71.46 L450.76,70.72 L451.26,69.71 L451.76,68.40 L452.26,66.81 L452.76,65.01 L453.26,63.14 L453.76,61.36 L454.26,59.83 L454.76,58.69 L455.26,58.00 L455.76,57.76 L456.26,57.84 L456.76,58.10 L457.26,58.34 L457.76,58.41 L458.26,58.20 L458.76,57.67 L459.26,56.85 L459.76,55.83 L460.26,54.71 L460.76,53.63 L461.26,52.70 L461.76,52.03 L462.26,51.69 L462.76,51.71 L463.26,51.99 L463.76,52.50 L464.26,53.24 L464.76,54.19 L465.26,55.30 L465.76,56.55 L466.26,57.89 L466.76,59.28 L467.26,60.70 L467.76,62.09 L468.26,63.44 L468.76,64.72 L469.26,65.91 L469.76,66.98 L470.26,67.95 L470.76,68.80 L471.26,69.54 L471.76,70.17 L472.26,70.70 L472.76,71.14 L473.26,71.50 L473.76,71.78 L474.26,72.01 L474.76,72.19 L475.26,72.32 L475.76,72.43 L476.26,72.50" fill="none" stroke="#8a9cc0" stroke-width="0.9" stroke-dasharray="1,0.8" stroke-linejoin="round" opacity="1"/>
<path d="M447.66,72.56 L448.16,72.42 L448.66,72.19 L449.16,71.80 L449.66,71.20 L450.16,70.32 L450.66,69.11 L451.16,67.52 L451.66,65.60 L452.16,63.42 L452.66,61.12 L453.16,58.88 L453.66,56.92 L454.16,55.38 L454.66,54.34 L455.16,53.79 L455.66,53.64 L456.16,53.69 L456.66,53.78 L457.16,53.73 L457.66,53.44 L458.16,52.90 L458.66,52.16 L459.16,51.32 L459.66,50.52 L460.16,49.90 L460.66,49.56 L461.16,49.59 L461.66,49.95 L462.16,50.62 L462.66,51.59 L463.16,52.82 L463.66,54.26 L464.16,55.86 L464.66,57.57 L465.16,59.31 L465.66,61.03 L466.16,62.69 L466.66,64.25 L467.16,65.67 L467.66,66.95 L468.16,68.07 L468.66,69.02 L469.16,69.83 L469.66,70.49 L470.16,71.03 L470.66,71.45 L471.16,71.79 L471.66,72.04 L472.16,72.23 L472.66,72.37 L473.16,72.47" fill="none" stroke="#a88aa4" stroke-width="0.9" stroke-dasharray="1,0.8" stroke-linejoin="round" opacity="1"/>
<path d="M434.52,72.46 L435.02,72.33 L435.52,72.13 L436.02,71.83 L436.52,71.42 L437.02,70.84 L437.52,70.07 L438.02,69.06 L438.52,67.77 L439.02,66.16 L439.52,64.21 L440.02,61.92 L440.52,59.30 L441.02,56.40 L441.52,53.30 L442.02,50.09 L442.52,46.93 L443.02,43.95 L443.52,41.31 L444.02,39.16 L444.52,37.63 L445.02,36.82 L445.52,36.78 L446.02,37.55 L446.52,39.08 L447.02,41.27 L447.52,43.99 L448.02,47.07 L448.52,50.34 L449.02,53.63 L449.52,56.81 L450.02,59.76 L450.52,62.40 L451.02,64.69 L451.52,66.61 L452.02,68.17 L452.52,69.41 L453.02,70.37 L453.52,71.08 L454.02,71.60 L454.52,71.97 L455.02,72.23 L455.52,72.40 L456.02,72.52" fill="none" stroke="#d8a060" stroke-width="0.6" stroke-linejoin="round" opacity="1"/>
<path d="M435.72,72.46 L436.22,72.32 L436.72,72.11 L437.22,71.81 L437.72,71.38 L438.22,70.79 L438.72,70.00 L439.22,68.96 L439.72,67.63 L440.22,65.98 L440.72,63.98 L441.22,61.62 L441.72,58.93 L442.22,55.95 L442.72,52.76 L443.22,49.47 L443.72,46.21 L444.22,43.15 L444.72,40.44 L445.22,38.23 L445.72,36.66 L446.22,35.83 L446.72,35.78 L447.22,36.57 L447.72,38.14 L448.22,40.40 L448.72,43.19 L449.22,46.36 L449.72,49.71 L450.22,53.10 L450.72,56.37 L451.22,59.40 L451.72,62.11 L452.22,64.46 L452.72,66.44 L453.22,68.05 L453.72,69.32 L454.22,70.30 L454.72,71.04 L455.22,71.57 L455.72,71.95 L456.22,72.22 L456.72,72.39 L457.22,72.51" fill="none" stroke="#cc4040" stroke-width="0.7" stroke-linejoin="round" opacity="1"/>
<path d="M435.50,72.46 L436.00,72.33 L436.50,72.12 L437.00,71.83 L437.50,71.41 L438.00,70.84 L438.50,70.06 L439.00,69.05 L439.50,67.74 L440.00,66.12 L440.50,64.15 L441.00,61.83 L441.50,59.18 L442.00,56.24 L442.50,53.08 L443.00,49.83 L443.50,46.60 L444.00,43.56 L444.50,40.86 L445.00,38.65 L445.50,37.07 L446.00,36.21 L446.50,36.14 L447.00,36.88 L447.50,38.41 L448.00,40.62 L448.50,43.37 L449.00,46.49 L449.50,49.81 L450.00,53.16 L450.50,56.40 L451.00,59.42 L451.50,62.12 L452.00,64.46 L452.50,66.43 L453.00,68.04 L453.50,69.31 L454.00,70.29 L454.50,71.03 L455.00,71.57 L455.50,71.95 L456.00,72.21 L456.50,72.39" fill="none" stroke="#553322" stroke-width="0.4" stroke-linejoin="round" opacity="0.5"/>
<line x1="427.3" y1="73.0" x2="457.9" y2="73.0" stroke="#1a1a1a" stroke-width="0.9" opacity="1"/>
<text x="483.3" y="46.8" font-family="Liberation Serif" font-size="7.5" font-weight="normal" fill="#222" stroke="#222" stroke-width="0.12" textLength="17.5" lengthAdjust="spacingAndGlyphs" opacity="1">3E8.1</text>
<line x1="427.6" y1="88.7" x2="427.6" y2="134.2" stroke="#777" stroke-width="0.9" opacity="1"/>
<line x1="426.6" y1="88.7" x2="427.6" y2="88.7" stroke="#555" stroke-width="0.6" opacity="1"/>
<line x1="426.6" y1="94.4" x2="427.6" y2="94.4" stroke="#555" stroke-width="0.6" opacity="1"/>
<line x1="426.6" y1="100.1" x2="427.6" y2="100.1" stroke="#555" stroke-width="0.6" opacity="1"/>
<line x1="426.6" y1="105.8" x2="427.6" y2="105.8" stroke="#555" stroke-width="0.6" opacity="1"/>
<line x1="426.6" y1="111.4" x2="427.6" y2="111.4" stroke="#555" stroke-width="0.6" opacity="1"/>
<line x1="426.6" y1="117.1" x2="427.6" y2="117.1" stroke="#555" stroke-width="0.6" opacity="1"/>
<line x1="426.6" y1="122.8" x2="427.6" y2="122.8" stroke="#555" stroke-width="0.6" opacity="1"/>
<line x1="426.6" y1="128.5" x2="427.6" y2="128.5" stroke="#555" stroke-width="0.6" opacity="1"/>
<line x1="426.6" y1="134.2" x2="427.6" y2="134.2" stroke="#555" stroke-width="0.6" opacity="1"/>
<line x1="427.3" y1="134.2" x2="514.5" y2="134.2" stroke="#1a1a1a" stroke-width="1.1" opacity="1"/>
<line x1="427.6" y1="88.7" x2="514.5" y2="88.7" stroke="#555" stroke-width="0.9" opacity="1"/>
<line x1="514.5" y1="88.7" x2="514.5" y2="134.2" stroke="#555" stroke-width="0.9" opacity="1"/>
<line x1="427.6" y1="134.2" x2="427.6" y2="135.2" stroke="#444" stroke-width="0.6" opacity="1"/>
<text x="425.7" y="140.4" font-family="Liberation Serif" font-size="3.9" fill="#333" stroke="#333" stroke-width="0.1">10</text>
<text x="429.5" y="138.4" font-family="Liberation Serif" font-size="2.9" fill="#333">0</text>
<line x1="449.3" y1="134.2" x2="449.3" y2="135.2" stroke="#444" stroke-width="0.6" opacity="1"/>
<text x="447.4" y="140.4" font-family="Liberation Serif" font-size="3.9" fill="#333" stroke="#333" stroke-width="0.1">10</text>
<text x="451.2" y="138.4" font-family="Liberation Serif" font-size="2.9" fill="#333">1</text>
<line x1="471.1" y1="134.2" x2="471.1" y2="135.2" stroke="#444" stroke-width="0.6" opacity="1"/>
<text x="469.2" y="140.4" font-family="Liberation Serif" font-size="3.9" fill="#333" stroke="#333" stroke-width="0.1">10</text>
<text x="472.9" y="138.4" font-family="Liberation Serif" font-size="2.9" fill="#333">2</text>
<line x1="492.8" y1="134.2" x2="492.8" y2="135.2" stroke="#444" stroke-width="0.6" opacity="1"/>
<text x="490.9" y="140.4" font-family="Liberation Serif" font-size="3.9" fill="#333" stroke="#333" stroke-width="0.1">10</text>
<text x="494.7" y="138.4" font-family="Liberation Serif" font-size="2.9" fill="#333">3</text>
<line x1="514.5" y1="134.2" x2="514.5" y2="135.2" stroke="#444" stroke-width="0.6" opacity="1"/>
<text x="512.6" y="140.4" font-family="Liberation Serif" font-size="3.9" fill="#333" stroke="#333" stroke-width="0.1">10</text>
<text x="516.4" y="138.4" font-family="Liberation Serif" font-size="2.9" fill="#333">4</text>
<text transform="translate(425.1,95.3) rotate(-90)" font-family="Liberation Serif" font-size="4.0" fill="#333" stroke="#333" stroke-width="0.12">128</text>
<text x="422.0" y="135.6" font-family="Liberation Serif" font-size="3.9" fill="#444">0</text>
<path d="M430.70,133.71 L431.20,133.60 L431.70,133.43 L432.20,133.18 L432.70,132.81 L433.20,132.31 L433.70,131.62 L434.20,130.69 L434.70,129.49 L435.20,127.97 L435.70,126.10 L436.20,123.85 L436.70,121.24 L437.20,118.28 L437.70,115.05 L438.20,111.64 L438.70,108.16 L439.20,104.79 L439.70,101.67 L440.20,98.99 L440.70,96.89 L441.20,95.50 L441.70,94.92 L442.20,95.09 L442.70,95.83 L443.20,97.11 L443.70,98.87 L444.20,101.04 L444.70,103.53 L445.20,106.25 L445.70,109.09 L446.20,111.97 L446.70,114.81 L447.20,117.52 L447.70,120.05 L448.20,122.37 L448.70,124.44 L449.20,126.25 L449.70,127.81 L450.20,129.12 L450.70,130.20 L451.20,131.08 L451.70,131.79 L452.20,132.34 L452.70,132.76 L453.20,133.08 L453.70,133.32 L454.20,133.50 L454.70,133.62 L455.20,133.71 L455.20,133.90 L430.70,133.90 Z" fill="#69bf52" stroke="none"/>
<path d="M430.70,133.71 L431.20,133.60 L431.70,133.43 L432.20,133.18 L432.70,132.81 L433.20,132.31 L433.70,131.62 L434.20,130.69 L434.70,129.49 L435.20,127.97 L435.70,126.10 L436.20,123.85 L436.70,121.24 L437.20,118.28 L437.70,115.05 L438.20,111.64 L438.70,108.16 L439.20,104.79 L439.70,101.67 L440.20,98.99 L440.70,96.89 L441.20,95.50 L441.70,94.92 L442.20,95.09 L442.70,95.83 L443.20,97.11 L443.70,98.87 L444.20,101.04 L444.70,103.53 L445.20,106.25 L445.70,109.09 L446.20,111.97 L446.70,114.81 L447.20,117.52 L447.70,120.05 L448.20,122.37 L448.70,124.44 L449.20,126.25 L449.70,127.81 L450.20,129.12 L450.70,130.20 L451.20,131.08 L451.70,131.79 L452.20,132.34 L452.70,132.76 L453.20,133.08 L453.70,133.32 L454.20,133.50 L454.70,133.62 L455.20,133.71" fill="none" stroke="#22441a" stroke-width="0.8" stroke-linejoin="round" opacity="1"/>
<path d="M453.98,133.71 L454.48,133.63 L454.98,133.50 L455.48,133.33 L455.98,133.10 L456.48,132.79 L456.98,132.39 L457.48,131.87 L457.98,131.20 L458.48,130.38 L458.98,129.37 L459.48,128.16 L459.98,126.73 L460.48,125.08 L460.98,123.21 L461.48,121.13 L461.98,118.87 L462.48,116.48 L462.98,114.00 L463.48,111.50 L463.98,109.07 L464.48,106.78 L464.98,104.71 L465.48,102.95 L465.98,101.56 L466.48,100.62 L466.98,100.15 L467.48,100.16 L467.98,100.54 L468.48,101.28 L468.98,102.35 L469.48,103.71 L469.98,105.32 L470.48,107.14 L470.98,109.11 L471.48,111.19 L471.98,113.31 L472.48,115.44 L472.98,117.53 L473.48,119.54 L473.98,121.44 L474.48,123.20 L474.98,124.81 L475.48,126.27 L475.98,127.56 L476.48,128.68 L476.98,129.66 L477.48,130.49 L477.98,131.19 L478.48,131.76 L478.98,132.24 L479.48,132.62 L479.98,132.92 L480.48,133.16 L480.98,133.35 L481.48,133.50 L481.98,133.60 L482.48,133.69" fill="none" stroke="#cc4040" stroke-width="0.7" stroke-linejoin="round" opacity="1"/>
<path d="M453.70,133.73 L454.20,133.64 L454.70,133.53 L455.20,133.37 L455.70,133.15 L456.20,132.86 L456.70,132.47 L457.20,131.98 L457.70,131.35 L458.20,130.56" fill="none" stroke="#553322" stroke-width="0.4" stroke-linejoin="round" opacity="0.5"/>
<line x1="427.3" y1="134.2" x2="459.2" y2="134.2" stroke="#1a1a1a" stroke-width="0.9" opacity="1"/>
<text x="484.2" y="105.8" font-family="Liberation Serif" font-size="7.5" font-weight="normal" fill="#222" stroke="#222" stroke-width="0.12" textLength="21.2" lengthAdjust="spacingAndGlyphs" opacity="1">H-2Kk</text>
<path d="M453.50,133.73 L454.00,133.65 L454.50,133.53 L455.00,133.37 L455.50,133.14 L456.00,132.84 L456.50,132.44 L457.00,131.92 L457.50,131.26 L458.00,130.43 L458.50,129.41 L459.00,128.18 L459.50,126.72 L460.00,125.03 L460.50,123.12 L461.00,121.00 L461.50,118.70 L462.00,116.27 L462.50,113.76 L463.00,111.26 L463.50,108.84 L464.00,106.59 L464.50,104.60 L465.00,102.95 L465.50,101.72 L466.00,100.96 L466.50,100.70 L467.00,100.87 L467.50,101.38 L468.00,102.22 L468.50,103.35 L469.00,104.75 L469.50,106.37 L470.00,108.18 L470.50,110.11 L471.00,112.12 L471.50,114.17 L472.00,116.22 L472.50,118.21 L473.00,120.13 L473.50,121.93 L474.00,123.61 L474.50,125.14 L475.00,126.53 L475.50,127.75 L476.00,128.83 L476.50,129.76 L477.00,130.56 L477.50,131.23 L478.00,131.79 L478.50,132.25 L479.00,132.62 L479.50,132.92 L480.00,133.15 L480.50,133.34 L481.00,133.48 L481.50,133.59 L482.00,133.68" fill="none" stroke="#d86868" stroke-width="0.6" stroke-linejoin="round" opacity="1"/>
<line x1="426.3" y1="152.2" x2="426.3" y2="197.8" stroke="#777" stroke-width="0.9" opacity="1"/>
<line x1="425.3" y1="152.2" x2="426.3" y2="152.2" stroke="#555" stroke-width="0.6" opacity="1"/>
<line x1="425.3" y1="157.9" x2="426.3" y2="157.9" stroke="#555" stroke-width="0.6" opacity="1"/>
<line x1="425.3" y1="163.6" x2="426.3" y2="163.6" stroke="#555" stroke-width="0.6" opacity="1"/>
<line x1="425.3" y1="169.3" x2="426.3" y2="169.3" stroke="#555" stroke-width="0.6" opacity="1"/>
<line x1="425.3" y1="175.0" x2="426.3" y2="175.0" stroke="#555" stroke-width="0.6" opacity="1"/>
<line x1="425.3" y1="180.7" x2="426.3" y2="180.7" stroke="#555" stroke-width="0.6" opacity="1"/>
<line x1="425.3" y1="186.4" x2="426.3" y2="186.4" stroke="#555" stroke-width="0.6" opacity="1"/>
<line x1="425.3" y1="192.1" x2="426.3" y2="192.1" stroke="#555" stroke-width="0.6" opacity="1"/>
<line x1="425.3" y1="197.8" x2="426.3" y2="197.8" stroke="#555" stroke-width="0.6" opacity="1"/>
<line x1="426.0" y1="197.8" x2="516.2" y2="197.8" stroke="#1a1a1a" stroke-width="1.1" opacity="1"/>
<line x1="426.3" y1="152.2" x2="516.2" y2="152.2" stroke="#555" stroke-width="0.9" opacity="1"/>
<line x1="426.3" y1="197.8" x2="426.3" y2="198.8" stroke="#444" stroke-width="0.6" opacity="1"/>
<text x="424.4" y="204.0" font-family="Liberation Serif" font-size="3.9" fill="#333" stroke="#333" stroke-width="0.1">10</text>
<text x="428.2" y="202.0" font-family="Liberation Serif" font-size="2.9" fill="#333">0</text>
<line x1="448.8" y1="197.8" x2="448.8" y2="198.8" stroke="#444" stroke-width="0.6" opacity="1"/>
<text x="446.9" y="204.0" font-family="Liberation Serif" font-size="3.9" fill="#333" stroke="#333" stroke-width="0.1">10</text>
<text x="450.7" y="202.0" font-family="Liberation Serif" font-size="2.9" fill="#333">1</text>
<line x1="471.2" y1="197.8" x2="471.2" y2="198.8" stroke="#444" stroke-width="0.6" opacity="1"/>
<text x="469.4" y="204.0" font-family="Liberation Serif" font-size="3.9" fill="#333" stroke="#333" stroke-width="0.1">10</text>
<text x="473.1" y="202.0" font-family="Liberation Serif" font-size="2.9" fill="#333">2</text>
<line x1="493.7" y1="197.8" x2="493.7" y2="198.8" stroke="#444" stroke-width="0.6" opacity="1"/>
<text x="491.8" y="204.0" font-family="Liberation Serif" font-size="3.9" fill="#333" stroke="#333" stroke-width="0.1">10</text>
<text x="495.6" y="202.0" font-family="Liberation Serif" font-size="2.9" fill="#333">3</text>
<line x1="516.2" y1="197.8" x2="516.2" y2="198.8" stroke="#444" stroke-width="0.6" opacity="1"/>
<text x="514.3" y="204.0" font-family="Liberation Serif" font-size="3.9" fill="#333" stroke="#333" stroke-width="0.1">10</text>
<text x="518.1" y="202.0" font-family="Liberation Serif" font-size="2.9" fill="#333">4</text>
<text transform="translate(423.8,158.8) rotate(-90)" font-family="Liberation Serif" font-size="4.0" fill="#333" stroke="#333" stroke-width="0.12">128</text>
<text x="420.7" y="199.2" font-family="Liberation Serif" font-size="3.9" fill="#444">0</text>
<path d="M430.80,197.26 L431.30,197.10 L431.80,196.86 L432.30,196.49 L432.80,195.96 L433.30,195.20 L433.80,194.17 L434.30,192.79 L434.80,191.01 L435.30,188.79 L435.80,186.12 L436.30,183.00 L436.80,179.51 L437.30,175.74 L437.80,171.87 L438.30,168.08 L438.80,164.60 L439.30,161.65 L439.80,159.44 L440.30,158.13 L440.80,157.82 L441.30,158.41 L441.80,159.82 L442.30,161.96 L442.80,164.69 L443.30,167.86 L443.80,171.30 L444.30,174.84 L444.80,178.31 L445.30,181.60 L445.80,184.61 L446.30,187.27 L446.80,189.56 L447.30,191.47 L447.80,193.01 L448.30,194.24 L448.80,195.18 L449.30,195.88 L449.80,196.40 L450.30,196.76 L450.80,197.02 L451.30,197.19 L451.80,197.31 L451.80,197.50 L430.80,197.50 Z" fill="#69bf52" stroke="none"/>
<path d="M430.80,197.26 L431.30,197.10 L431.80,196.86 L432.30,196.49 L432.80,195.96 L433.30,195.20 L433.80,194.17 L434.30,192.79 L434.80,191.01 L435.30,188.79 L435.80,186.12 L436.30,183.00 L436.80,179.51 L437.30,175.74 L437.80,171.87 L438.30,168.08 L438.80,164.60 L439.30,161.65 L439.80,159.44 L440.30,158.13 L440.80,157.82 L441.30,158.41 L441.80,159.82 L442.30,161.96 L442.80,164.69 L443.30,167.86 L443.80,171.30 L444.30,174.84 L444.80,178.31 L445.30,181.60 L445.80,184.61 L446.30,187.27 L446.80,189.56 L447.30,191.47 L447.80,193.01 L448.30,194.24 L448.80,195.18 L449.30,195.88 L449.80,196.40 L450.30,196.76 L450.80,197.02 L451.30,197.19 L451.80,197.31" fill="none" stroke="#22441a" stroke-width="0.8" stroke-linejoin="round" opacity="1"/>
<path d="M449.10,197.25 L449.60,197.20 L450.10,197.13 L450.60,197.05 L451.10,196.96 L451.60,196.85 L452.10,196.72 L452.60,196.57 L453.10,196.39 L453.60,196.20 L454.10,195.97 L454.60,195.71 L455.10,195.43 L455.60,195.11 L456.10,194.75 L456.60,194.35 L457.10,193.92 L457.60,193.45 L458.10,192.93 L458.60,192.38 L459.10,191.80 L459.60,191.17 L460.10,190.52 L460.60,189.84 L461.10,189.13 L461.60,188.40 L462.10,187.66 L462.60,186.92 L463.10,186.18 L463.60,185.44 L464.10,184.73 L464.60,184.04 L465.10,183.38 L465.60,182.77 L466.10,182.21 L466.60,181.71 L467.10,181.28 L467.60,180.92 L468.10,180.64 L468.60,180.44 L469.10,180.33 L469.60,180.30 L470.10,180.35 L470.60,180.48 L471.10,180.69 L471.60,180.96 L472.10,181.30 L472.60,181.71 L473.10,182.17 L473.60,182.69 L474.10,183.25 L474.60,183.85 L475.10,184.48 L475.60,185.14 L476.10,185.82 L476.60,186.51 L477.10,187.21 L477.60,187.90 L478.10,188.59 L478.60,189.26 L479.10,189.92 L479.60,190.55 L480.10,191.16 L480.60,191.75 L481.10,192.30 L481.60,192.82 L482.10,193.31 L482.60,193.76 L483.10,194.18 L483.60,194.56 L484.10,194.91 L484.60,195.23 L485.10,195.52 L485.60,195.78 L486.10,196.01 L486.60,196.22 L487.10,196.40 L487.60,196.56 L488.10,196.71 L488.60,196.83 L489.10,196.93 L489.60,197.03 L490.10,197.10 L490.60,197.17 L491.10,197.23 L491.60,197.28" fill="none" stroke="#8aa2cc" stroke-width="0.9" stroke-dasharray="1,0.8" stroke-linejoin="round" opacity="1"/>
<path d="M447.10,197.29 L447.60,197.25 L448.10,197.19 L448.60,197.12 L449.10,197.04 L449.60,196.94 L450.10,196.83 L450.60,196.69 L451.10,196.54 L451.60,196.36 L452.10,196.16 L452.60,195.93 L453.10,195.66 L453.60,195.37 L454.10,195.04 L454.60,194.67 L455.10,194.26 L455.60,193.81 L456.10,193.33 L456.60,192.80 L457.10,192.23 L457.60,191.63 L458.10,190.99 L458.60,190.32 L459.10,189.61 L459.60,188.88 L460.10,188.14 L460.60,187.38 L461.10,186.61 L461.60,185.85 L462.10,185.09 L462.60,184.36 L463.10,183.65 L463.60,182.97 L464.10,182.34 L464.60,181.77 L465.10,181.26 L465.60,180.81 L466.10,180.44 L466.60,180.15 L467.10,179.95 L467.60,179.83 L468.10,179.80 L468.60,179.86 L469.10,179.99 L469.60,180.20 L470.10,180.48 L470.60,180.83 L471.10,181.25 L471.60,181.73 L472.10,182.26 L472.60,182.83 L473.10,183.45 L473.60,184.11 L474.10,184.78 L474.60,185.48 L475.10,186.19 L475.60,186.91 L476.10,187.62 L476.60,188.33 L477.10,189.02 L477.60,189.70 L478.10,190.35 L478.60,190.98 L479.10,191.58 L479.60,192.15 L480.10,192.68 L480.60,193.18 L481.10,193.65 L481.60,194.08 L482.10,194.48 L482.60,194.84 L483.10,195.17 L483.60,195.47 L484.10,195.73 L484.60,195.97 L485.10,196.18 L485.60,196.37 L486.10,196.54 L486.60,196.68 L487.10,196.81 L487.60,196.92 L488.10,197.01 L488.60,197.09 L489.10,197.16 L489.60,197.22 L490.10,197.27" fill="none" stroke="#b88aa8" stroke-width="0.9" stroke-dasharray="1,0.8" stroke-linejoin="round" opacity="1"/>
<path d="M436.26,197.28 L436.76,197.16 L437.26,197.00 L437.76,196.77 L438.26,196.46 L438.76,196.03 L439.26,195.48 L439.76,194.76 L440.26,193.86 L440.76,192.75 L441.26,191.42 L441.76,189.85 L442.26,188.05 L442.76,186.03 L443.26,183.84 L443.76,181.52 L444.26,179.15 L444.76,176.81 L445.26,174.59 L445.76,172.59 L446.26,170.91 L446.76,169.62 L447.26,168.81 L447.76,168.50 L448.26,168.61 L448.76,168.99 L449.26,169.62 L449.76,170.49 L450.26,171.57 L450.76,172.84 L451.26,174.26 L451.76,175.80 L452.26,177.42 L452.76,179.10 L453.26,180.79 L453.76,182.46 L454.26,184.09 L454.76,185.66 L455.26,187.14 L455.76,188.51 L456.26,189.78 L456.76,190.93 L457.26,191.96 L457.76,192.87 L458.26,193.67 L458.76,194.35 L459.26,194.94 L459.76,195.44 L460.26,195.86 L460.76,196.20 L461.26,196.48 L461.76,196.71 L462.26,196.89 L462.76,197.04 L463.26,197.15 L463.76,197.24 L464.26,197.31" fill="none" stroke="#d8a060" stroke-width="0.6" stroke-linejoin="round" opacity="1"/>
<path d="M436.56,197.27 L437.06,197.16 L437.56,196.99 L438.06,196.76 L438.56,196.44 L439.06,196.01 L439.56,195.45 L440.06,194.73 L440.56,193.81 L441.06,192.69 L441.56,191.34 L442.06,189.74 L442.56,187.92 L443.06,185.87 L443.56,183.65 L444.06,181.30 L444.56,178.90 L445.06,176.52 L445.56,174.27 L446.06,172.25 L446.56,170.54 L447.06,169.24 L447.56,168.41 L448.06,168.10 L448.56,168.21 L449.06,168.60 L449.56,169.24 L450.06,170.12 L450.56,171.21 L451.06,172.50 L451.56,173.94 L452.06,175.50 L452.56,177.15 L453.06,178.85 L453.56,180.56 L454.06,182.26 L454.56,183.91 L455.06,185.50 L455.56,186.99 L456.06,188.39 L456.56,189.67 L457.06,190.84 L457.56,191.88 L458.06,192.80 L458.56,193.61 L459.06,194.31 L459.56,194.91 L460.06,195.41 L460.56,195.83 L461.06,196.18 L461.56,196.47 L462.06,196.70 L462.56,196.88 L463.06,197.03 L463.56,197.15 L464.06,197.24 L464.56,197.30" fill="none" stroke="#cc4040" stroke-width="0.7" stroke-linejoin="round" opacity="1"/>
<path d="M436.30,197.29 L436.80,197.18 L437.30,197.02 L437.80,196.80 L438.30,196.50 L438.80,196.09 L439.30,195.55 L439.80,194.85 L440.30,193.97 L440.80,192.88 L441.30,191.57 L441.80,190.02 L442.30,188.24 L442.80,186.24 L443.30,184.06 L443.80,181.75 L444.30,179.37 L444.80,177.01 L445.30,174.76 L445.80,172.72 L446.30,170.99 L446.80,169.65 L447.30,168.77 L447.80,168.40 L448.30,168.48 L448.80,168.83 L449.30,169.43 L449.80,170.27 L450.30,171.33 L450.80,172.59 L451.30,174.00 L451.80,175.53 L452.30,177.15 L452.80,178.83 L453.30,180.52 L453.80,182.21 L454.30,183.85" fill="none" stroke="#553322" stroke-width="0.4" stroke-linejoin="round" opacity="0.5"/>
<line x1="426.0" y1="197.8" x2="455.3" y2="197.8" stroke="#1a1a1a" stroke-width="0.9" opacity="1"/>
<text x="479.8" y="166.0" font-family="Liberation Serif" font-size="7.5" font-weight="normal" fill="#222" stroke="#222" stroke-width="0.12" textLength="27.6" lengthAdjust="spacingAndGlyphs" opacity="1">hu-ApoB</text>
<line x1="427.2" y1="212.6" x2="427.2" y2="259.4" stroke="#777" stroke-width="0.9" opacity="1"/>
<line x1="426.2" y1="212.6" x2="427.2" y2="212.6" stroke="#555" stroke-width="0.6" opacity="1"/>
<line x1="426.2" y1="218.4" x2="427.2" y2="218.4" stroke="#555" stroke-width="0.6" opacity="1"/>
<line x1="426.2" y1="224.3" x2="427.2" y2="224.3" stroke="#555" stroke-width="0.6" opacity="1"/>
<line x1="426.2" y1="230.1" x2="427.2" y2="230.1" stroke="#555" stroke-width="0.6" opacity="1"/>
<line x1="426.2" y1="236.0" x2="427.2" y2="236.0" stroke="#555" stroke-width="0.6" opacity="1"/>
<line x1="426.2" y1="241.8" x2="427.2" y2="241.8" stroke="#555" stroke-width="0.6" opacity="1"/>
<line x1="426.2" y1="247.7" x2="427.2" y2="247.7" stroke="#555" stroke-width="0.6" opacity="1"/>
<line x1="426.2" y1="253.5" x2="427.2" y2="253.5" stroke="#555" stroke-width="0.6" opacity="1"/>
<line x1="426.2" y1="259.4" x2="427.2" y2="259.4" stroke="#555" stroke-width="0.6" opacity="1"/>
<line x1="426.9" y1="259.4" x2="516.2" y2="259.4" stroke="#1a1a1a" stroke-width="1.1" opacity="1"/>
<line x1="427.2" y1="212.6" x2="516.2" y2="212.6" stroke="#555" stroke-width="0.9" opacity="1"/>
<line x1="427.2" y1="259.4" x2="427.2" y2="260.4" stroke="#444" stroke-width="0.6" opacity="1"/>
<text x="425.3" y="265.6" font-family="Liberation Serif" font-size="3.9" fill="#333" stroke="#333" stroke-width="0.1">10</text>
<text x="429.1" y="263.6" font-family="Liberation Serif" font-size="2.9" fill="#333">0</text>
<line x1="449.4" y1="259.4" x2="449.4" y2="260.4" stroke="#444" stroke-width="0.6" opacity="1"/>
<text x="447.6" y="265.6" font-family="Liberation Serif" font-size="3.9" fill="#333" stroke="#333" stroke-width="0.1">10</text>
<text x="451.3" y="263.6" font-family="Liberation Serif" font-size="2.9" fill="#333">1</text>
<line x1="471.7" y1="259.4" x2="471.7" y2="260.4" stroke="#444" stroke-width="0.6" opacity="1"/>
<text x="469.8" y="265.6" font-family="Liberation Serif" font-size="3.9" fill="#333" stroke="#333" stroke-width="0.1">10</text>
<text x="473.6" y="263.6" font-family="Liberation Serif" font-size="2.9" fill="#333">2</text>
<line x1="494.0" y1="259.4" x2="494.0" y2="260.4" stroke="#444" stroke-width="0.6" opacity="1"/>
<text x="492.1" y="265.6" font-family="Liberation Serif" font-size="3.9" fill="#333" stroke="#333" stroke-width="0.1">10</text>
<text x="495.9" y="263.6" font-family="Liberation Serif" font-size="2.9" fill="#333">3</text>
<line x1="516.2" y1="259.4" x2="516.2" y2="260.4" stroke="#444" stroke-width="0.6" opacity="1"/>
<text x="514.3" y="265.6" font-family="Liberation Serif" font-size="3.9" fill="#333" stroke="#333" stroke-width="0.1">10</text>
<text x="518.1" y="263.6" font-family="Liberation Serif" font-size="2.9" fill="#333">4</text>
<text transform="translate(424.7,219.2) rotate(-90)" font-family="Liberation Serif" font-size="4.0" fill="#333" stroke="#333" stroke-width="0.12">128</text>
<text x="421.6" y="260.8" font-family="Liberation Serif" font-size="3.9" fill="#444">0</text>
<path d="M427.50,257.82 L428.00,257.25 L428.50,256.48 L429.00,255.47 L429.50,254.17 L430.00,252.56 L430.50,250.60 L431.00,248.30 L431.50,245.66 L432.00,242.74 L432.50,239.61 L433.00,236.37 L433.50,233.17 L434.00,230.14 L434.50,227.46 L435.00,225.27 L435.50,223.69 L436.00,222.84 L436.50,222.73 L437.00,223.05 L437.50,223.73 L438.00,224.74 L438.50,226.06 L439.00,227.64 L439.50,229.44 L440.00,231.42 L440.50,233.52 L441.00,235.70 L441.50,237.90 L442.00,240.09 L442.50,242.23 L443.00,244.27 L443.50,246.19 L444.00,247.98 L444.50,249.61 L445.00,251.09 L445.50,252.40 L446.00,253.56 L446.50,254.56 L447.00,255.41 L447.50,256.14 L448.00,256.74 L448.50,257.25 L449.00,257.65 L449.50,257.98 L450.00,258.25 L450.50,258.45 L451.00,258.62 L451.50,258.74 L452.00,258.84 L452.50,258.91 L452.50,259.10 L427.50,259.10 Z" fill="#69bf52" stroke="none"/>
<path d="M427.50,257.82 L428.00,257.25 L428.50,256.48 L429.00,255.47 L429.50,254.17 L430.00,252.56 L430.50,250.60 L431.00,248.30 L431.50,245.66 L432.00,242.74 L432.50,239.61 L433.00,236.37 L433.50,233.17 L434.00,230.14 L434.50,227.46 L435.00,225.27 L435.50,223.69 L436.00,222.84 L436.50,222.73 L437.00,223.05 L437.50,223.73 L438.00,224.74 L438.50,226.06 L439.00,227.64 L439.50,229.44 L440.00,231.42 L440.50,233.52 L441.00,235.70 L441.50,237.90 L442.00,240.09 L442.50,242.23 L443.00,244.27 L443.50,246.19 L444.00,247.98 L444.50,249.61 L445.00,251.09 L445.50,252.40 L446.00,253.56 L446.50,254.56 L447.00,255.41 L447.50,256.14 L448.00,256.74 L448.50,257.25 L449.00,257.65 L449.50,257.98 L450.00,258.25 L450.50,258.45 L451.00,258.62 L451.50,258.74 L452.00,258.84 L452.50,258.91" fill="none" stroke="#22441a" stroke-width="0.8" stroke-linejoin="round" opacity="1"/>
<path d="M464.10,258.89 L464.60,258.84 L465.10,258.77 L465.60,258.69 L466.10,258.59 L466.60,258.47 L467.10,258.33 L467.60,258.16 L468.10,257.97 L468.60,257.74 L469.10,257.48 L469.60,257.17 L470.10,256.82 L470.60,256.43 L471.10,255.98 L471.60,255.48 L472.10,254.92 L472.60,254.31 L473.10,253.64 L473.60,252.92 L474.10,252.14 L474.60,251.30 L475.10,250.42 L475.60,249.50 L476.10,248.54 L476.60,247.55 L477.10,246.55 L477.60,245.53 L478.10,244.53 L478.60,243.54 L479.10,242.58 L479.60,241.66 L480.10,240.81 L480.60,240.02 L481.10,239.32 L481.60,238.72 L482.10,238.22 L482.60,237.83 L483.10,237.56 L483.60,237.42 L484.10,237.41 L484.60,237.47 L485.10,237.62 L485.60,237.83 L486.10,238.11 L486.60,238.47 L487.10,238.88 L487.60,239.36 L488.10,239.89 L488.60,240.48 L489.10,241.10 L489.60,241.77 L490.10,242.47 L490.60,243.19 L491.10,243.94 L491.60,244.70 L492.10,245.47 L492.60,246.25 L493.10,247.02 L493.60,247.78 L494.10,248.54 L494.60,249.27 L495.10,249.99 L495.60,250.69 L496.10,251.35 L496.60,251.99 L497.10,252.60 L497.60,253.18 L498.10,253.72 L498.60,254.24 L499.10,254.71 L499.60,255.16 L500.10,255.57 L500.60,255.95 L501.10,256.30 L501.60,256.62 L502.10,256.91 L502.60,257.17 L503.10,257.41 L503.60,257.62 L504.10,257.81 L504.60,257.98 L505.10,258.13 L505.60,258.27 L506.10,258.38 L506.60,258.49 L507.10,258.58 L507.60,258.66 L508.10,258.72 L508.60,258.78 L509.10,258.83 L509.60,258.88" fill="none" stroke="#6e9ccc" stroke-width="0.9" stroke-dasharray="1,0.8" stroke-linejoin="round" opacity="1"/>
<path d="M456.30,258.90 L456.80,258.84 L457.30,258.77 L457.80,258.69 L458.30,258.59 L458.80,258.47 L459.30,258.32 L459.80,258.15 L460.30,257.94 L460.80,257.70 L461.30,257.42 L461.80,257.09 L462.30,256.72 L462.80,256.29 L463.30,255.80 L463.80,255.24 L464.30,254.63 L464.80,253.94 L465.30,253.19 L465.80,252.36 L466.30,251.46 L466.80,250.50 L467.30,249.47 L467.80,248.38 L468.30,247.24 L468.80,246.06 L469.30,244.84 L469.80,243.59 L470.30,242.34 L470.80,241.10 L471.30,239.88 L471.80,238.70 L472.30,237.57 L472.80,236.51 L473.30,235.54 L473.80,234.67 L474.30,233.93 L474.80,233.31 L475.30,232.83 L475.80,232.50 L476.30,232.33 L476.80,232.32 L477.30,232.52 L477.80,232.93 L478.30,233.55 L478.80,234.36 L479.30,235.34 L479.80,236.47 L480.30,237.73 L480.80,239.08 L481.30,240.50 L481.80,241.96 L482.30,243.44 L482.80,244.90 L483.30,246.34 L483.80,247.72 L484.30,249.04 L484.80,250.28 L485.30,251.43 L485.80,252.48 L486.30,253.44 L486.80,254.30 L487.30,255.06 L487.80,255.73 L488.30,256.31 L488.80,256.81 L489.30,257.24 L489.80,257.60 L490.30,257.90 L490.80,258.14 L491.30,258.35 L491.80,258.51 L492.30,258.64 L492.80,258.75 L493.30,258.83 L493.80,258.90" fill="none" stroke="#c27a9c" stroke-width="0.9" stroke-dasharray="1,0.8" stroke-linejoin="round" opacity="1"/>
<path d="M462.70,258.90 L463.20,258.84 L463.70,258.78 L464.20,258.70 L464.70,258.61 L465.20,258.49 L465.70,258.36 L466.20,258.19 L466.70,258.01 L467.20,257.78 L467.70,257.53 L468.20,257.23 L468.70,256.89 L469.20,256.51 L469.70,256.08 L470.20,255.60 L470.70,255.06 L471.20,254.47 L471.70,253.82 L472.20,253.12 L472.70,252.36 L473.20,251.55 L473.70,250.70 L474.20,249.81 L474.70,248.88 L475.20,247.92 L475.70,246.95 L476.20,245.97 L476.70,245.00 L477.20,244.04 L477.70,243.11 L478.20,242.23 L478.70,241.40 L479.20,240.64 L479.70,239.96 L480.20,239.37 L480.70,238.89 L481.20,238.52 L481.70,238.26 L482.20,238.12 L482.70,238.11 L483.20,238.17 L483.70,238.31 L484.20,238.52 L484.70,238.79 L485.20,239.13 L485.70,239.54 L486.20,240.00 L486.70,240.51 L487.20,241.08 L487.70,241.68 L488.20,242.33 L488.70,243.01 L489.20,243.71 L489.70,244.43 L490.20,245.17 L490.70,245.91 L491.20,246.66 L491.70,247.41 L492.20,248.15 L492.70,248.88 L493.20,249.59 L493.70,250.29 L494.20,250.96 L494.70,251.60 L495.20,252.22 L495.70,252.81 L496.20,253.37 L496.70,253.90 L497.20,254.39 L497.70,254.86 L498.20,255.29 L498.70,255.68 L499.20,256.05 L499.70,256.39 L500.20,256.70 L500.70,256.98 L501.20,257.23 L501.70,257.46 L502.20,257.67 L502.70,257.85 L503.20,258.02 L503.70,258.16 L504.20,258.29 L504.70,258.41 L505.20,258.51 L505.70,258.59 L506.20,258.67 L506.70,258.74 L507.20,258.79 L507.70,258.84 L508.20,258.88" fill="none" stroke="#d8a060" stroke-width="0.6" stroke-linejoin="round" opacity="1"/>
<path d="M434.58,258.92 L435.08,258.83 L435.58,258.71 L436.08,258.55 L436.58,258.33 L437.08,258.03 L437.58,257.64 L438.08,257.13 L438.58,256.49 L439.08,255.69 L439.58,254.72 L440.08,253.55 L440.58,252.16 L441.08,250.57 L441.58,248.75 L442.08,246.74 L442.58,244.56 L443.08,242.24 L443.58,239.85 L444.08,237.43 L444.58,235.08 L445.08,232.86 L445.58,230.86 L446.08,229.15 L446.58,227.82 L447.08,226.90 L447.58,226.45 L448.08,226.44 L448.58,226.72 L449.08,227.24 L449.58,228.01 L450.08,229.00 L450.58,230.19 L451.08,231.55 L451.58,233.06 L452.08,234.68 L452.58,236.38 L453.08,238.13 L453.58,239.90 L454.08,241.66 L454.58,243.39 L455.08,245.05 L455.58,246.64 L456.08,248.14 L456.58,249.53 L457.08,250.82 L457.58,251.98 L458.08,253.04 L458.58,253.97 L459.08,254.80 L459.58,255.52 L460.08,256.15 L460.58,256.68 L461.08,257.13 L461.58,257.52 L462.08,257.83 L462.58,258.10 L463.08,258.31 L463.58,258.48 L464.08,258.62 L464.58,258.73 L465.08,258.82 L465.58,258.89" fill="none" stroke="#cc4040" stroke-width="0.7" stroke-linejoin="round" opacity="1"/>
<path d="M434.50,258.90 L435.00,258.81 L435.50,258.68 L436.00,258.51 L436.50,258.27 L437.00,257.96 L437.50,257.54 L438.00,257.01 L438.50,256.34 L439.00,255.51 L439.50,254.50 L440.00,253.29 L440.50,251.87 L441.00,250.24 L441.50,248.40 L442.00,246.36 L442.50,244.17 L443.00,241.85 L443.50,239.46 L444.00,237.08 L444.50,234.78 L445.00,232.62 L445.50,230.71 L446.00,229.10 L446.50,227.87 L447.00,227.07 L447.50,226.74 L448.00,226.81 L448.50,227.14 L449.00,227.72 L449.50,228.54 L450.00,229.57 L450.50,230.79 L451.00,232.18 L451.50,233.70 L452.00,235.32 L452.50,237.02 L453.00,238.76 L453.50,240.52 L454.00,242.25 L454.50,243.95 L455.00,245.58 L455.50,247.13 L456.00,248.59" fill="none" stroke="#553322" stroke-width="0.4" stroke-linejoin="round" opacity="0.5"/>
<line x1="426.9" y1="259.4" x2="457.3" y2="259.4" stroke="#1a1a1a" stroke-width="0.9" opacity="1"/>
<text x="478.2" y="223.4" font-family="Liberation Serif" font-size="7.5" font-weight="normal" fill="#222" stroke="#222" stroke-width="0.12" textLength="28.8" lengthAdjust="spacingAndGlyphs" opacity="1">antiserum</text>
<line x1="427.5" y1="226.7" x2="427.5" y2="259.4" stroke="#111" stroke-width="1.2" opacity="1"/>
<line x1="460.0" y1="259.1" x2="505.0" y2="259.1" stroke="#cc4040" stroke-width="0.8" opacity="0.8"/>
<rect x="427.6" y="275.4" width="12" height="10.6" fill="#69bf52" stroke="#22441a" stroke-width="0.9"/>
<text x="443.1" y="283.5" font-family="Liberation Serif" font-size="7.5" font-weight="normal" fill="#222" stroke="#222" stroke-width="0.12" textLength="47.8" lengthAdjust="spacingAndGlyphs" opacity="1">0%FCS unstain</text>
<line x1="426.6" y1="292.8" x2="439.9" y2="292.8" stroke="#cc4040" stroke-width="1.7" opacity="1"/>
<text x="443.1" y="295.8" font-family="Liberation Serif" font-size="7.5" font-weight="normal" fill="#222" stroke="#222" stroke-width="0.12" textLength="23.5" lengthAdjust="spacingAndGlyphs" opacity="1">0%FCS</text>
<line x1="426.6" y1="300.9" x2="439.9" y2="300.9" stroke="#c860a8" stroke-width="1.6" stroke-dasharray="1.3,1.1" opacity="1"/>
<text x="443.1" y="304.0" font-family="Liberation Serif" font-size="7.5" font-weight="normal" fill="#222" stroke="#222" stroke-width="0.12" textLength="23.5" lengthAdjust="spacingAndGlyphs" opacity="1">2%FCS</text>
<line x1="426.6" y1="308.2" x2="439.9" y2="308.2" stroke="#5a90d0" stroke-width="1.6" stroke-dasharray="1.3,1.1" opacity="1"/>
<text x="443.1" y="311.8" font-family="Liberation Serif" font-size="7.5" font-weight="normal" fill="#222" stroke="#222" stroke-width="0.12" textLength="23.5" lengthAdjust="spacingAndGlyphs" opacity="1">5%FCS</text>
<line x1="426.6" y1="316.6" x2="439.9" y2="316.6" stroke="#d8a060" stroke-width="1.6" opacity="1"/>
<text x="443.1" y="320.5" font-family="Liberation Serif" font-size="7.5" font-weight="normal" fill="#222" stroke="#222" stroke-width="0.12" textLength="27.3" lengthAdjust="spacingAndGlyphs" opacity="1">10%FCS</text>
</svg>
</body></html>
